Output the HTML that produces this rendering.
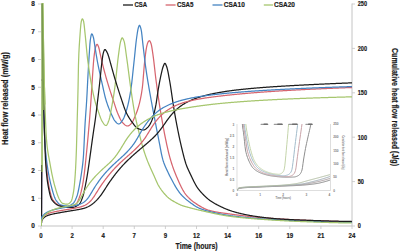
<!DOCTYPE html>
<html><head><meta charset="utf-8"><style>
html,body{margin:0;padding:0;background:#fff;width:400px;height:252px;overflow:hidden}
svg{display:block}
text{font-family:"Liberation Sans",sans-serif}
</style></head><body>
<svg width="400" height="252" viewBox="0 0 400 252" font-family="Liberation Sans, sans-serif">
<defs><clipPath id="pc"><rect x="41" y="3" width="311" height="223"/></clipPath><clipPath id="ic"><rect x="237" y="124" width="93.5" height="67"/></clipPath></defs>
<rect width="400" height="252" fill="#fff"/>
<line x1="41.5" y1="3.5" x2="41.5" y2="226" stroke="#c4c4c4" stroke-width="1"/>
<line x1="41" y1="226" x2="352" y2="226" stroke="#c4c4c4" stroke-width="1.2"/>
<line x1="352" y1="3.5" x2="352" y2="226" stroke="#c4c4c4" stroke-width="1"/>
<line x1="38" y1="226.00" x2="41.5" y2="226.00" stroke="#c4c4c4" stroke-width="0.8"/>
<text x="34.8" y="228.3" font-size="6.7" text-anchor="end" font-weight="bold" fill="#1a1a1a" stroke="#1a1a1a" stroke-width="0.18" textLength="3.6" lengthAdjust="spacingAndGlyphs" >0</text>
<line x1="38" y1="198.25" x2="41.5" y2="198.25" stroke="#c4c4c4" stroke-width="0.8"/>
<text x="34.8" y="200.55" font-size="6.7" text-anchor="end" font-weight="bold" fill="#1a1a1a" stroke="#1a1a1a" stroke-width="0.18" textLength="3.6" lengthAdjust="spacingAndGlyphs" >1</text>
<line x1="38" y1="170.50" x2="41.5" y2="170.50" stroke="#c4c4c4" stroke-width="0.8"/>
<text x="34.8" y="172.8" font-size="6.7" text-anchor="end" font-weight="bold" fill="#1a1a1a" stroke="#1a1a1a" stroke-width="0.18" textLength="3.6" lengthAdjust="spacingAndGlyphs" >2</text>
<line x1="38" y1="142.75" x2="41.5" y2="142.75" stroke="#c4c4c4" stroke-width="0.8"/>
<text x="34.8" y="145.05" font-size="6.7" text-anchor="end" font-weight="bold" fill="#1a1a1a" stroke="#1a1a1a" stroke-width="0.18" textLength="3.6" lengthAdjust="spacingAndGlyphs" >3</text>
<line x1="38" y1="115.00" x2="41.5" y2="115.00" stroke="#c4c4c4" stroke-width="0.8"/>
<text x="34.8" y="117.3" font-size="6.7" text-anchor="end" font-weight="bold" fill="#1a1a1a" stroke="#1a1a1a" stroke-width="0.18" textLength="3.6" lengthAdjust="spacingAndGlyphs" >4</text>
<line x1="38" y1="87.25" x2="41.5" y2="87.25" stroke="#c4c4c4" stroke-width="0.8"/>
<text x="34.8" y="89.55" font-size="6.7" text-anchor="end" font-weight="bold" fill="#1a1a1a" stroke="#1a1a1a" stroke-width="0.18" textLength="3.6" lengthAdjust="spacingAndGlyphs" >5</text>
<line x1="38" y1="59.50" x2="41.5" y2="59.50" stroke="#c4c4c4" stroke-width="0.8"/>
<text x="34.8" y="61.8" font-size="6.7" text-anchor="end" font-weight="bold" fill="#1a1a1a" stroke="#1a1a1a" stroke-width="0.18" textLength="3.6" lengthAdjust="spacingAndGlyphs" >6</text>
<line x1="38" y1="31.75" x2="41.5" y2="31.75" stroke="#c4c4c4" stroke-width="0.8"/>
<text x="34.8" y="34.05" font-size="6.7" text-anchor="end" font-weight="bold" fill="#1a1a1a" stroke="#1a1a1a" stroke-width="0.18" textLength="3.6" lengthAdjust="spacingAndGlyphs" >7</text>
<line x1="38" y1="4.00" x2="41.5" y2="4.00" stroke="#c4c4c4" stroke-width="0.8"/>
<text x="34.8" y="6.3" font-size="6.7" text-anchor="end" font-weight="bold" fill="#1a1a1a" stroke="#1a1a1a" stroke-width="0.18" textLength="3.6" lengthAdjust="spacingAndGlyphs" >8</text>
<line x1="352" y1="226.00" x2="355" y2="226.00" stroke="#c4c4c4" stroke-width="0.8"/>
<text x="357.8" y="228.3" font-size="6.7" text-anchor="start" font-weight="bold" fill="#1a1a1a" stroke="#1a1a1a" stroke-width="0.18" textLength="3.07" lengthAdjust="spacingAndGlyphs" >0</text>
<line x1="352" y1="181.60" x2="355" y2="181.60" stroke="#c4c4c4" stroke-width="0.8"/>
<text x="357.8" y="183.9" font-size="6.7" text-anchor="start" font-weight="bold" fill="#1a1a1a" stroke="#1a1a1a" stroke-width="0.18" textLength="6.14" lengthAdjust="spacingAndGlyphs" >50</text>
<line x1="352" y1="137.20" x2="355" y2="137.20" stroke="#c4c4c4" stroke-width="0.8"/>
<text x="357.8" y="139.5" font-size="6.7" text-anchor="start" font-weight="bold" fill="#1a1a1a" stroke="#1a1a1a" stroke-width="0.18" textLength="9.21" lengthAdjust="spacingAndGlyphs" >100</text>
<line x1="352" y1="92.80" x2="355" y2="92.80" stroke="#c4c4c4" stroke-width="0.8"/>
<text x="357.8" y="95.1" font-size="6.7" text-anchor="start" font-weight="bold" fill="#1a1a1a" stroke="#1a1a1a" stroke-width="0.18" textLength="9.21" lengthAdjust="spacingAndGlyphs" >150</text>
<line x1="352" y1="48.40" x2="355" y2="48.40" stroke="#c4c4c4" stroke-width="0.8"/>
<text x="357.8" y="50.7" font-size="6.7" text-anchor="start" font-weight="bold" fill="#1a1a1a" stroke="#1a1a1a" stroke-width="0.18" textLength="9.21" lengthAdjust="spacingAndGlyphs" >200</text>
<line x1="352" y1="4.00" x2="355" y2="4.00" stroke="#c4c4c4" stroke-width="0.8"/>
<text x="357.8" y="6.3" font-size="6.7" text-anchor="start" font-weight="bold" fill="#1a1a1a" stroke="#1a1a1a" stroke-width="0.18" textLength="9.21" lengthAdjust="spacingAndGlyphs" >250</text>
<line x1="41.00" y1="226" x2="41.00" y2="229" stroke="#c4c4c4" stroke-width="0.8"/>
<text x="41.0" y="237.6" font-size="6.7" text-anchor="middle" font-weight="bold" fill="#1a1a1a" stroke="#1a1a1a" stroke-width="0.18" textLength="3.4" lengthAdjust="spacingAndGlyphs" >0</text>
<line x1="72.10" y1="226" x2="72.10" y2="229" stroke="#c4c4c4" stroke-width="0.8"/>
<text x="72.1" y="237.6" font-size="6.7" text-anchor="middle" font-weight="bold" fill="#1a1a1a" stroke="#1a1a1a" stroke-width="0.18" textLength="3.4" lengthAdjust="spacingAndGlyphs" >2</text>
<line x1="103.20" y1="226" x2="103.20" y2="229" stroke="#c4c4c4" stroke-width="0.8"/>
<text x="103.2" y="237.6" font-size="6.7" text-anchor="middle" font-weight="bold" fill="#1a1a1a" stroke="#1a1a1a" stroke-width="0.18" textLength="3.4" lengthAdjust="spacingAndGlyphs" >4</text>
<line x1="134.30" y1="226" x2="134.30" y2="229" stroke="#c4c4c4" stroke-width="0.8"/>
<text x="134.3" y="237.6" font-size="6.7" text-anchor="middle" font-weight="bold" fill="#1a1a1a" stroke="#1a1a1a" stroke-width="0.18" textLength="3.4" lengthAdjust="spacingAndGlyphs" >7</text>
<line x1="165.40" y1="226" x2="165.40" y2="229" stroke="#c4c4c4" stroke-width="0.8"/>
<text x="165.4" y="237.6" font-size="6.7" text-anchor="middle" font-weight="bold" fill="#1a1a1a" stroke="#1a1a1a" stroke-width="0.18" textLength="3.4" lengthAdjust="spacingAndGlyphs" >9</text>
<line x1="196.50" y1="226" x2="196.50" y2="229" stroke="#c4c4c4" stroke-width="0.8"/>
<text x="196.5" y="237.6" font-size="6.7" text-anchor="middle" font-weight="bold" fill="#1a1a1a" stroke="#1a1a1a" stroke-width="0.18" textLength="6.8" lengthAdjust="spacingAndGlyphs" >12</text>
<line x1="227.60" y1="226" x2="227.60" y2="229" stroke="#c4c4c4" stroke-width="0.8"/>
<text x="227.6" y="237.6" font-size="6.7" text-anchor="middle" font-weight="bold" fill="#1a1a1a" stroke="#1a1a1a" stroke-width="0.18" textLength="6.8" lengthAdjust="spacingAndGlyphs" >14</text>
<line x1="258.70" y1="226" x2="258.70" y2="229" stroke="#c4c4c4" stroke-width="0.8"/>
<text x="258.7" y="237.6" font-size="6.7" text-anchor="middle" font-weight="bold" fill="#1a1a1a" stroke="#1a1a1a" stroke-width="0.18" textLength="6.8" lengthAdjust="spacingAndGlyphs" >16</text>
<line x1="289.80" y1="226" x2="289.80" y2="229" stroke="#c4c4c4" stroke-width="0.8"/>
<text x="289.8" y="237.6" font-size="6.7" text-anchor="middle" font-weight="bold" fill="#1a1a1a" stroke="#1a1a1a" stroke-width="0.18" textLength="6.8" lengthAdjust="spacingAndGlyphs" >19</text>
<line x1="320.90" y1="226" x2="320.90" y2="229" stroke="#c4c4c4" stroke-width="0.8"/>
<text x="320.9" y="237.6" font-size="6.7" text-anchor="middle" font-weight="bold" fill="#1a1a1a" stroke="#1a1a1a" stroke-width="0.18" textLength="6.8" lengthAdjust="spacingAndGlyphs" >21</text>
<line x1="352.00" y1="226" x2="352.00" y2="229" stroke="#c4c4c4" stroke-width="0.8"/>
<text x="352.0" y="237.6" font-size="6.7" text-anchor="middle" font-weight="bold" fill="#1a1a1a" stroke="#1a1a1a" stroke-width="0.18" textLength="6.8" lengthAdjust="spacingAndGlyphs" >24</text>
<text x="196.6" y="248.7" font-size="8.4" text-anchor="middle" font-weight="bold" fill="#1a1a1a" stroke="#1a1a1a" stroke-width="0.18" textLength="42" lengthAdjust="spacingAndGlyphs" >Time (hours)</text>
<g transform="translate(7.9,145) rotate(-90)"><text x="0" y="0" font-size="8.2" text-anchor="start" font-weight="bold" fill="#1a1a1a" stroke="#1a1a1a" stroke-width="0.18" textLength="93" lengthAdjust="spacingAndGlyphs" >Heat flow released (mW/g)</text></g>
<g transform="translate(391.6,48) rotate(90)"><text x="0" y="0" font-size="8.4" text-anchor="start" font-weight="bold" fill="#1a1a1a" stroke="#1a1a1a" stroke-width="0.18" textLength="118" lengthAdjust="spacingAndGlyphs" >Cumulative heat flow released (J/g)</text></g>
<line x1="123" y1="5" x2="133" y2="5" stroke="#1c1c1c" stroke-width="1.3"/>
<text x="134.4" y="7.1" font-size="7.5" text-anchor="start" font-weight="bold" fill="#1a1a1a" stroke="#1a1a1a" stroke-width="0.18" textLength="12.6" lengthAdjust="spacingAndGlyphs" >CSA</text>
<line x1="165.6" y1="5" x2="175.6" y2="5" stroke="#d6656f" stroke-width="1.3"/>
<text x="176.9" y="7.1" font-size="7.5" text-anchor="start" font-weight="bold" fill="#1a1a1a" stroke="#1a1a1a" stroke-width="0.18" textLength="16.6" lengthAdjust="spacingAndGlyphs" >CSA5</text>
<line x1="212.5" y1="5" x2="222.5" y2="5" stroke="#4584c2" stroke-width="1.3"/>
<text x="223.8" y="7.1" font-size="7.5" text-anchor="start" font-weight="bold" fill="#1a1a1a" stroke="#1a1a1a" stroke-width="0.18" textLength="21" lengthAdjust="spacingAndGlyphs" >CSA10</text>
<line x1="263.8" y1="5" x2="273" y2="5" stroke="#a6c66e" stroke-width="1.3"/>
<text x="274" y="7.1" font-size="7.5" text-anchor="start" font-weight="bold" fill="#1a1a1a" stroke="#1a1a1a" stroke-width="0.18" textLength="21" lengthAdjust="spacingAndGlyphs" >CSA20</text>
<g clip-path="url(#pc)"><path d="M41.5 223 L41.7 165 M42.3 79.5 L42.30 79.50 L42.70 82.00 L43.10 90.95 L43.50 102.81 L43.90 115.23 L44.30 127.95 L44.70 138.82 L45.10 146.73 L45.50 153.27 L45.90 158.77 L46.30 163.57 L46.70 168.11 L47.10 172.34 L47.50 176.21 L47.90 179.65 L48.30 182.60 L48.70 185.00 L49.10 187.05 L49.50 188.98 L49.90 190.80 L50.30 192.49 L50.70 194.05 L51.10 195.46 L51.50 196.73 L51.90 197.83 L52.30 198.77 L52.70 199.54 L53.10 200.13 L53.50 200.65 L53.90 201.15 L54.30 201.61 L54.70 202.05 L55.10 202.46 L55.50 202.85 L55.90 203.21 L56.30 203.54 L56.70 203.85 L57.10 204.14 L57.50 204.40 L57.90 204.64 L58.30 204.85 L58.70 205.04 L59.10 205.21 L59.50 205.35 L59.90 205.47 L60.30 205.58 L60.70 205.68 L61.10 205.78 L61.50 205.88 L61.90 205.97 L62.30 206.06 L62.70 206.15 L63.10 206.23 L63.50 206.31 L63.90 206.39 L64.30 206.46 L64.70 206.53 L65.10 206.59 L65.50 206.65 L65.90 206.71 L66.30 206.76 L66.70 206.81 L67.10 206.85 L67.50 206.89 L67.90 206.92 L68.30 206.95 L68.70 206.97 L69.10 206.99 L69.50 207.00 L69.90 207.00 L70.30 206.99 L70.70 206.95 L71.10 206.87 L71.50 206.77 L71.90 206.63 L72.30 206.47 L72.70 206.29 L73.10 206.08 L73.50 205.84 L73.90 205.59 L74.30 205.32 L74.70 205.03 L75.10 204.73 L75.50 204.41 L75.90 204.08 L76.30 203.71 L76.70 203.21 L77.10 202.59 L77.50 201.86 L77.90 201.03 L78.30 200.12 L78.70 199.14 L79.10 198.10 L79.50 197.00 L79.90 195.87 L80.30 194.70 L80.70 193.40 L81.10 191.91 L81.50 190.27 L81.90 188.47 L82.30 186.53 L82.70 184.47 L83.10 182.12 L83.50 179.49 L83.90 176.62 L84.30 173.58 L84.70 170.36 L85.10 166.79 L85.50 162.96 L85.90 158.99 L86.30 155.00 L86.70 150.95 L87.10 146.84 L87.50 142.63 L87.90 138.34 L88.30 133.94 L88.70 129.42 L89.10 124.78 L89.50 120.00 L89.90 115.01 L90.30 109.75 L90.70 104.26 L91.10 98.54 L91.50 92.33 L91.90 85.84 L92.30 79.46 L92.70 73.57 L93.10 67.75 L93.50 62.32 L93.90 58.00 L94.30 54.61 L94.70 51.62 L95.10 49.20 L95.50 47.50 L95.90 46.25 L96.30 45.18 L96.70 44.48 L97.10 44.32 L97.50 44.66 L97.90 45.36 L98.30 46.27 L98.70 47.27 L99.10 48.73 L99.50 50.61 L99.90 52.61 L100.30 54.43 L100.70 56.18 L101.10 57.94 L101.50 59.70 L101.90 61.44 L102.30 63.14 L102.70 64.80 L103.10 66.39 L103.50 67.95 L103.90 69.48 L104.30 70.99 L104.70 72.48 L105.10 73.94 L105.50 75.38 L105.90 76.81 L106.30 78.21 L106.70 79.60 L107.10 80.97 L107.50 82.32 L107.90 83.67 L108.30 84.99 L108.70 86.30 L109.10 87.59 L109.50 88.86 L109.90 90.11 L110.30 91.36 L110.70 92.59 L111.10 93.81 L111.50 95.02 L111.90 96.22 L112.30 97.42 L112.70 98.61 L113.10 99.81 L113.50 101.00 L113.90 102.21 L114.30 103.43 L114.70 104.67 L115.10 105.91 L115.50 107.13 L115.90 108.34 L116.30 109.52 L116.70 110.67 L117.10 111.76 L117.50 112.80 L117.90 113.77 L118.30 114.69 L118.70 115.60 L119.10 116.50 L119.50 117.38 L119.90 118.24 L120.30 119.06 L120.70 119.83 L121.10 120.54 L121.50 121.20 L121.90 121.78 L122.30 122.28 L122.70 122.71 L123.10 123.12 L123.50 123.52 L123.90 123.92 L124.30 124.29 L124.70 124.65 L125.10 124.97 L125.50 125.26 L125.90 125.51 L126.30 125.72 L126.70 125.87 L127.10 125.97 L127.50 126.00 L127.90 125.96 L128.30 125.84 L128.70 125.66 L129.10 125.43 L129.50 125.14 L129.90 124.81 L130.30 124.46 L130.70 124.08 L131.10 123.70 L131.50 123.29 L131.90 122.78 L132.30 122.17 L132.70 121.47 L133.10 120.70 L133.50 119.87 L133.90 119.00 L134.30 118.10 L134.70 117.19 L135.10 116.27 L135.50 115.34 L135.90 114.37 L136.30 113.36 L136.70 112.30 L137.10 111.19 L137.50 110.02 L137.90 108.78 L138.30 107.48 L138.70 106.09 L139.10 104.63 L139.50 103.07 L139.90 101.42 L140.30 99.63 L140.70 97.70 L141.10 95.59 L141.50 93.29 L141.90 90.77 L142.30 88.00 L142.70 84.45 L143.10 79.90 L143.50 74.83 L143.90 69.70 L144.30 64.98 L144.70 61.11 L145.10 57.59 L145.50 54.23 L145.90 51.17 L146.30 48.55 L146.70 46.50 L147.10 44.86 L147.50 43.44 L147.90 42.35 L148.30 41.66 L148.70 41.15 L149.10 40.79 L149.50 40.72 L149.90 41.07 L150.30 41.78 L150.70 42.72 L151.10 43.79 L151.50 45.41 L151.90 47.61 L152.30 50.19 L152.70 52.94 L153.10 55.69 L153.50 58.66 L153.90 61.92 L154.30 65.38 L154.70 68.94 L155.10 72.50 L155.50 75.96 L155.90 79.23 L156.30 82.28 L156.70 85.28 L157.10 88.24 L157.50 91.15 L157.90 94.01 L158.30 96.81 L158.70 99.55 L159.10 102.22 L159.50 104.84 L159.90 107.38 L160.30 109.85 L160.70 112.29 L161.10 114.70 L161.50 117.06 L161.90 119.39 L162.30 121.67 L162.70 123.92 L163.10 126.13 L163.50 128.30 L163.90 130.43 L164.30 132.52 L164.70 134.57 L165.10 136.58 L165.50 138.55 L165.90 140.48 L166.30 142.38 L166.70 144.26 L167.10 146.11 L167.50 147.92 L167.90 149.69 L168.30 151.40 L168.70 153.07 L169.10 154.66 L169.50 156.19 L169.90 157.65 L170.30 159.03 L170.70 160.38 L171.10 161.69 L171.50 162.97 L171.90 164.21 L172.30 165.42 L172.70 166.60 L173.10 167.74 L173.50 168.86 L173.90 169.95 L174.30 171.01 L174.70 172.04 L175.10 173.05 L175.50 174.04 L175.90 175.00 L176.30 175.95 L176.70 176.89 L177.10 177.83 L177.50 178.77 L177.90 179.69 L178.30 180.61 L178.70 181.51 L179.10 182.40 L179.50 183.28 L179.90 184.15 L180.30 185.00 L180.70 185.83 L181.10 186.65 L181.50 187.45 L181.90 188.23 L182.30 188.98 L182.70 189.72 L183.10 190.42 L183.50 191.11 L183.90 191.77 L184.30 192.40 L184.70 193.00 L185.10 193.57 L185.50 194.12 L185.90 194.62 L186.30 195.12 L186.70 195.59 L187.10 196.06 L187.50 196.51 L187.90 196.94 L188.30 197.37 L188.70 197.78 L189.10 198.18 L189.50 198.57 L189.90 198.95 L190.30 199.32 L190.70 199.68 L191.10 200.03 L191.50 200.37 L191.90 200.70 L192.30 201.02 L192.70 201.34 L193.10 201.64 L193.50 201.94 L193.90 202.23 L194.30 202.52 L194.70 202.80 L195.10 203.07 L195.50 203.34 L195.90 203.60 L196.30 203.87 L196.70 204.13 L197.10 204.39 L197.50 204.65 L197.90 204.90 L198.30 205.16 L198.70 205.41 L199.10 205.65 L199.50 205.90 L199.90 206.14 L200.30 206.37 L200.70 206.61 L201.10 206.84 L201.50 207.06 L201.90 207.28 L202.30 207.50 L202.70 207.71 L203.10 207.92 L203.50 208.12 L203.90 208.32 L204.30 208.51 L204.70 208.70 L205.10 208.88 L205.50 209.06 L205.90 209.23 L206.30 209.39 L206.70 209.55 L207.10 209.70 L207.50 209.85 L207.90 209.99 L208.30 210.12 L208.70 210.24 L209.10 210.36 L209.50 210.47 L209.90 210.58 L210.30 210.68 L210.70 210.78 L211.10 210.88 L211.50 210.98 L211.90 211.07 L212.30 211.16 L212.70 211.25 L213.10 211.34 L213.50 211.42 L213.90 211.51 L214.30 211.59 L214.70 211.67 L215.10 211.75 L215.50 211.83 L215.90 211.90 L216.30 211.98 L216.70 212.05 L217.10 212.12 L217.50 212.19 L217.90 212.26 L218.30 212.32 L218.70 212.39 L219.10 212.46 L219.50 212.52 L219.90 212.58 L220.30 212.64 L220.70 212.70 L221.10 212.76 L221.50 212.82 L221.90 212.88 L222.30 212.94 L222.70 213.00 L223.10 213.05 L223.50 213.11 L223.90 213.17 L224.30 213.22 L224.70 213.28 L225.10 213.33 L225.50 213.38 L225.90 213.44 L226.30 213.49 L226.70 213.55 L227.10 213.60 L227.50 213.66 L227.90 213.71 L228.30 213.76 L228.70 213.82 L229.10 213.87 L229.50 213.93 L229.90 213.99 L230.30 214.04 L230.70 214.10 L231.10 214.15 L231.50 214.21 L231.90 214.27 L232.30 214.32 L232.70 214.38 L233.10 214.43 L233.50 214.49 L233.90 214.54 L234.30 214.60 L234.70 214.65 L235.10 214.70 L235.50 214.76 L235.90 214.81 L236.30 214.86 L236.70 214.92 L237.10 214.97 L237.50 215.02 L237.90 215.08 L238.30 215.13 L238.70 215.18 L239.10 215.23 L239.50 215.28 L239.90 215.34 L240.30 215.39 L240.70 215.44 L241.10 215.49 L241.50 215.54 L241.90 215.59 L242.30 215.64 L242.70 215.69 L243.10 215.74 L243.50 215.79 L243.90 215.84 L244.30 215.88 L244.70 215.93 L245.10 215.98 L245.50 216.03 L245.90 216.07 L246.30 216.12 L246.70 216.17 L247.10 216.21 L247.50 216.26 L247.90 216.30 L248.30 216.35 L248.70 216.39 L249.10 216.44 L249.50 216.48 L249.90 216.53 L250.30 216.57 L250.70 216.61 L251.10 216.66 L251.50 216.70 L251.90 216.74 L252.30 216.78 L252.70 216.82 L253.10 216.86 L253.50 216.90 L253.90 216.94 L254.30 216.98 L254.70 217.02 L255.10 217.06 L255.50 217.10 L255.90 217.14 L256.30 217.17 L256.70 217.21 L257.10 217.25 L257.50 217.28 L257.90 217.32 L258.30 217.36 L258.70 217.39 L259.10 217.42 L259.50 217.46 L259.90 217.49 L260.30 217.52 L260.70 217.56 L261.10 217.59 L261.50 217.62 L261.90 217.65 L262.30 217.69 L262.70 217.72 L263.10 217.75 L263.50 217.78 L263.90 217.81 L264.30 217.84 L264.70 217.88 L265.10 217.91 L265.50 217.94 L265.90 217.97 L266.30 218.00 L266.70 218.03 L267.10 218.06 L267.50 218.09 L267.90 218.12 L268.30 218.15 L268.70 218.18 L269.10 218.21 L269.50 218.23 L269.90 218.26 L270.30 218.29 L270.70 218.32 L271.10 218.35 L271.50 218.38 L271.90 218.40 L272.30 218.43 L272.70 218.46 L273.10 218.49 L273.50 218.52 L273.90 218.54 L274.30 218.57 L274.70 218.60 L275.10 218.62 L275.50 218.65 L275.90 218.68 L276.30 218.70 L276.70 218.73 L277.10 218.75 L277.50 218.78 L277.90 218.81 L278.30 218.83 L278.70 218.86 L279.10 218.88 L279.50 218.91 L279.90 218.93 L280.30 218.96 L280.70 218.98 L281.10 219.00 L281.50 219.03 L281.90 219.05 L282.30 219.08 L282.70 219.10 L283.10 219.12 L283.50 219.15 L283.90 219.17 L284.30 219.19 L284.70 219.22 L285.10 219.24 L285.50 219.26 L285.90 219.29 L286.30 219.31 L286.70 219.33 L287.10 219.35 L287.50 219.38 L287.90 219.40 L288.30 219.42 L288.70 219.44 L289.10 219.46 L289.50 219.48 L289.90 219.51 L290.30 219.53 L290.70 219.55 L291.10 219.57 L291.50 219.59 L291.90 219.61 L292.30 219.63 L292.70 219.65 L293.10 219.67 L293.50 219.69 L293.90 219.71 L294.30 219.73 L294.70 219.75 L295.10 219.77 L295.50 219.79 L295.90 219.81 L296.30 219.83 L296.70 219.85 L297.10 219.87 L297.50 219.88 L297.90 219.90 L298.30 219.92 L298.70 219.94 L299.10 219.96 L299.50 219.98 L299.90 220.00 L300.30 220.01 L300.70 220.03 L301.10 220.05 L301.50 220.07 L301.90 220.09 L302.30 220.10 L302.70 220.12 L303.10 220.14 L303.50 220.16 L303.90 220.17 L304.30 220.19 L304.70 220.21 L305.10 220.23 L305.50 220.24 L305.90 220.26 L306.30 220.28 L306.70 220.30 L307.10 220.31 L307.50 220.33 L307.90 220.35 L308.30 220.37 L308.70 220.38 L309.10 220.40 L309.50 220.42 L309.90 220.43 L310.30 220.45 L310.70 220.47 L311.10 220.49 L311.50 220.50 L311.90 220.52 L312.30 220.54 L312.70 220.55 L313.10 220.57 L313.50 220.59 L313.90 220.60 L314.30 220.62 L314.70 220.64 L315.10 220.65 L315.50 220.67 L315.90 220.68 L316.30 220.70 L316.70 220.72 L317.10 220.73 L317.50 220.75 L317.90 220.76 L318.30 220.78 L318.70 220.80 L319.10 220.81 L319.50 220.83 L319.90 220.84 L320.30 220.86 L320.70 220.87 L321.10 220.89 L321.50 220.90 L321.90 220.92 L322.30 220.93 L322.70 220.95 L323.10 220.96 L323.50 220.98 L323.90 220.99 L324.30 221.01 L324.70 221.02 L325.10 221.04 L325.50 221.05 L325.90 221.07 L326.30 221.08 L326.70 221.10 L327.10 221.11 L327.50 221.12 L327.90 221.14 L328.30 221.15 L328.70 221.17 L329.10 221.18 L329.50 221.19 L329.90 221.21 L330.30 221.22 L330.70 221.23 L331.10 221.25 L331.50 221.26 L331.90 221.27 L332.30 221.29 L332.70 221.30 L333.10 221.31 L333.50 221.33 L333.90 221.34 L334.30 221.35 L334.70 221.36 L335.10 221.38 L335.50 221.39 L335.90 221.40 L336.30 221.41 L336.70 221.42 L337.10 221.44 L337.50 221.45 L337.90 221.46 L338.30 221.47 L338.70 221.48 L339.10 221.49 L339.50 221.50 L339.90 221.52 L340.30 221.53 L340.70 221.54 L341.10 221.55 L341.50 221.56 L341.90 221.57 L342.30 221.58 L342.70 221.59 L343.10 221.60 L343.50 221.61 L343.90 221.62 L344.30 221.63 L344.70 221.64 L345.10 221.65 L345.50 221.66 L345.90 221.67 L346.30 221.68 L346.70 221.69 L347.10 221.70 L347.50 221.71 L347.90 221.72 L348.30 221.72 L348.70 221.73 L349.10 221.74 L349.50 221.75 L349.90 221.76 L350.30 221.77 L350.70 221.77 L351.10 221.78 L351.50 221.79 L351.90 221.80" fill="none" stroke="#d6656f" stroke-width="1.25" stroke-linejoin="round"/><path d="M41.5 223 L41.7 165 M42.3 79.5 L42.30 79.50 L42.70 82.00 L43.10 90.95 L43.50 102.83 L43.90 115.69 L44.30 128.78 L44.70 139.17 L45.10 145.57 L45.50 150.66 L45.90 154.86 L46.30 158.40 L46.70 161.54 L47.10 164.46 L47.50 167.20 L47.90 169.76 L48.30 172.15 L48.70 174.40 L49.10 176.50 L49.50 178.48 L49.90 180.35 L50.30 182.11 L50.70 183.79 L51.10 185.40 L51.50 186.97 L51.90 188.51 L52.30 190.01 L52.70 191.46 L53.10 192.86 L53.50 194.18 L53.90 195.41 L54.30 196.56 L54.70 197.60 L55.10 198.53 L55.50 199.33 L55.90 200.00 L56.30 200.59 L56.70 201.15 L57.10 201.69 L57.50 202.20 L57.90 202.67 L58.30 203.12 L58.70 203.53 L59.10 203.89 L59.50 204.22 L59.90 204.49 L60.30 204.72 L60.70 204.90 L61.10 205.03 L61.50 205.13 L61.90 205.24 L62.30 205.33 L62.70 205.42 L63.10 205.51 L63.50 205.59 L63.90 205.66 L64.30 205.73 L64.70 205.79 L65.10 205.84 L65.50 205.89 L65.90 205.93 L66.30 205.96 L66.70 205.98 L67.10 206.00 L67.50 206.00 L67.90 205.98 L68.30 205.93 L68.70 205.85 L69.10 205.74 L69.50 205.60 L69.90 205.43 L70.30 205.24 L70.70 205.03 L71.10 204.80 L71.50 204.56 L71.90 204.29 L72.30 204.01 L72.70 203.72 L73.10 203.42 L73.50 203.04 L73.90 202.55 L74.30 201.96 L74.70 201.29 L75.10 200.53 L75.50 199.70 L75.90 198.79 L76.30 197.83 L76.70 196.80 L77.10 195.72 L77.50 194.40 L77.90 192.81 L78.30 191.01 L78.70 189.07 L79.10 187.05 L79.50 185.00 L79.90 182.89 L80.30 180.65 L80.70 178.26 L81.10 175.71 L81.50 173.00 L81.90 170.22 L82.30 167.33 L82.70 164.08 L83.10 160.23 L83.50 155.26 L83.90 147.92 L84.30 139.25 L84.70 130.61 L85.10 123.36 L85.50 117.36 L85.90 111.82 L86.30 106.22 L86.70 100.00 L87.10 92.66 L87.50 84.64 L87.90 76.82 L88.30 69.71 L88.70 62.90 L89.10 56.52 L89.50 50.27 L89.90 44.18 L90.30 40.00 L90.70 37.51 L91.10 35.45 L91.50 34.13 L91.90 33.82 L92.30 34.29 L92.70 35.20 L93.10 36.38 L93.50 37.74 L93.90 39.82 L94.30 42.40 L94.70 45.10 L95.10 47.60 L95.50 50.03 L95.90 52.52 L96.30 55.00 L96.70 57.44 L97.10 59.79 L97.50 62.00 L97.90 64.09 L98.30 66.11 L98.70 68.07 L99.10 69.98 L99.50 71.84 L99.90 73.67 L100.30 75.47 L100.70 77.25 L101.10 79.02 L101.50 80.79 L101.90 82.56 L102.30 84.35 L102.70 86.17 L103.10 88.00 L103.50 89.83 L103.90 91.64 L104.30 93.41 L104.70 95.11 L105.10 96.74 L105.50 98.26 L105.90 99.67 L106.30 100.97 L106.70 102.22 L107.10 103.42 L107.50 104.59 L107.90 105.71 L108.30 106.80 L108.70 107.85 L109.10 108.87 L109.50 109.86 L109.90 110.83 L110.30 111.76 L110.70 112.67 L111.10 113.56 L111.50 114.44 L111.90 115.29 L112.30 116.13 L112.70 116.98 L113.10 117.81 L113.50 118.61 L113.90 119.36 L114.30 120.04 L114.70 120.63 L115.10 121.11 L115.50 121.58 L115.90 122.03 L116.30 122.47 L116.70 122.88 L117.10 123.25 L117.50 123.56 L117.90 123.79 L118.30 123.95 L118.70 124.00 L119.10 123.94 L119.50 123.78 L119.90 123.51 L120.30 123.16 L120.70 122.74 L121.10 122.26 L121.50 121.73 L121.90 121.16 L122.30 120.57 L122.70 119.96 L123.10 119.34 L123.50 118.64 L123.90 117.81 L124.30 116.87 L124.70 115.84 L125.10 114.71 L125.50 113.51 L125.90 112.24 L126.30 110.92 L126.70 109.55 L127.10 108.14 L127.50 106.66 L127.90 105.06 L128.30 103.35 L128.70 101.53 L129.10 99.59 L129.50 97.53 L129.90 95.35 L130.30 93.05 L130.70 90.63 L131.10 87.98 L131.50 84.95 L131.90 81.59 L132.30 78.00 L132.70 74.25 L133.10 70.43 L133.50 66.62 L133.90 62.91 L134.30 59.22 L134.70 55.33 L135.10 51.36 L135.50 47.43 L135.90 43.69 L136.30 40.27 L136.70 37.29 L137.10 34.48 L137.50 31.86 L137.90 29.63 L138.30 28.00 L138.70 26.74 L139.10 25.72 L139.50 25.30 L139.90 25.66 L140.30 26.62 L140.70 27.96 L141.10 29.50 L141.50 31.70 L141.90 34.88 L142.30 38.59 L142.70 42.38 L143.10 45.82 L143.50 49.18 L143.90 52.60 L144.30 56.03 L144.70 59.41 L145.10 62.69 L145.50 65.80 L145.90 68.71 L146.30 71.45 L146.70 74.10 L147.10 76.65 L147.50 79.13 L147.90 81.54 L148.30 83.91 L148.70 86.24 L149.10 88.54 L149.50 90.85 L149.90 93.15 L150.30 95.41 L150.70 97.64 L151.10 99.83 L151.50 102.00 L151.90 104.14 L152.30 106.28 L152.70 108.40 L153.10 110.53 L153.50 112.66 L153.90 114.78 L154.30 116.89 L154.70 118.99 L155.10 121.09 L155.50 123.17 L155.90 125.25 L156.30 127.32 L156.70 129.38 L157.10 131.43 L157.50 133.46 L157.90 135.49 L158.30 137.50 L158.70 139.50 L159.10 141.52 L159.50 143.60 L159.90 145.72 L160.30 147.85 L160.70 149.97 L161.10 152.03 L161.50 154.01 L161.90 155.88 L162.30 157.61 L162.70 159.16 L163.10 160.52 L163.50 161.76 L163.90 162.92 L164.30 164.00 L164.70 165.03 L165.10 166.00 L165.50 166.93 L165.90 167.83 L166.30 168.69 L166.70 169.55 L167.10 170.39 L167.50 171.23 L167.90 172.08 L168.30 172.94 L168.70 173.78 L169.10 174.61 L169.50 175.42 L169.90 176.21 L170.30 176.99 L170.70 177.76 L171.10 178.52 L171.50 179.27 L171.90 180.02 L172.30 180.76 L172.70 181.50 L173.10 182.24 L173.50 182.98 L173.90 183.71 L174.30 184.44 L174.70 185.16 L175.10 185.87 L175.50 186.57 L175.90 187.25 L176.30 187.91 L176.70 188.54 L177.10 189.15 L177.50 189.75 L177.90 190.33 L178.30 190.91 L178.70 191.47 L179.10 192.02 L179.50 192.56 L179.90 193.08 L180.30 193.58 L180.70 194.07 L181.10 194.54 L181.50 194.98 L181.90 195.41 L182.30 195.83 L182.70 196.24 L183.10 196.64 L183.50 197.03 L183.90 197.41 L184.30 197.78 L184.70 198.14 L185.10 198.50 L185.50 198.85 L185.90 199.20 L186.30 199.53 L186.70 199.87 L187.10 200.19 L187.50 200.51 L187.90 200.82 L188.30 201.13 L188.70 201.44 L189.10 201.74 L189.50 202.03 L189.90 202.33 L190.30 202.62 L190.70 202.91 L191.10 203.20 L191.50 203.48 L191.90 203.77 L192.30 204.06 L192.70 204.34 L193.10 204.62 L193.50 204.89 L193.90 205.16 L194.30 205.43 L194.70 205.69 L195.10 205.95 L195.50 206.20 L195.90 206.45 L196.30 206.69 L196.70 206.92 L197.10 207.15 L197.50 207.36 L197.90 207.57 L198.30 207.77 L198.70 207.96 L199.10 208.15 L199.50 208.32 L199.90 208.48 L200.30 208.64 L200.70 208.79 L201.10 208.94 L201.50 209.09 L201.90 209.24 L202.30 209.38 L202.70 209.52 L203.10 209.65 L203.50 209.79 L203.90 209.92 L204.30 210.04 L204.70 210.17 L205.10 210.29 L205.50 210.41 L205.90 210.53 L206.30 210.65 L206.70 210.76 L207.10 210.87 L207.50 210.98 L207.90 211.09 L208.30 211.19 L208.70 211.30 L209.10 211.40 L209.50 211.50 L209.90 211.60 L210.30 211.70 L210.70 211.80 L211.10 211.90 L211.50 211.99 L211.90 212.09 L212.30 212.18 L212.70 212.27 L213.10 212.37 L213.50 212.46 L213.90 212.55 L214.30 212.64 L214.70 212.73 L215.10 212.82 L215.50 212.91 L215.90 213.00 L216.30 213.09 L216.70 213.18 L217.10 213.27 L217.50 213.35 L217.90 213.44 L218.30 213.52 L218.70 213.61 L219.10 213.69 L219.50 213.77 L219.90 213.86 L220.30 213.94 L220.70 214.02 L221.10 214.10 L221.50 214.17 L221.90 214.25 L222.30 214.33 L222.70 214.40 L223.10 214.48 L223.50 214.55 L223.90 214.63 L224.30 214.70 L224.70 214.77 L225.10 214.84 L225.50 214.91 L225.90 214.97 L226.30 215.04 L226.70 215.11 L227.10 215.17 L227.50 215.23 L227.90 215.29 L228.30 215.36 L228.70 215.41 L229.10 215.47 L229.50 215.53 L229.90 215.59 L230.30 215.64 L230.70 215.70 L231.10 215.75 L231.50 215.80 L231.90 215.86 L232.30 215.91 L232.70 215.96 L233.10 216.01 L233.50 216.07 L233.90 216.12 L234.30 216.17 L234.70 216.22 L235.10 216.27 L235.50 216.32 L235.90 216.37 L236.30 216.42 L236.70 216.47 L237.10 216.51 L237.50 216.56 L237.90 216.61 L238.30 216.66 L238.70 216.70 L239.10 216.75 L239.50 216.80 L239.90 216.84 L240.30 216.89 L240.70 216.93 L241.10 216.98 L241.50 217.02 L241.90 217.06 L242.30 217.11 L242.70 217.15 L243.10 217.19 L243.50 217.24 L243.90 217.28 L244.30 217.32 L244.70 217.36 L245.10 217.40 L245.50 217.44 L245.90 217.48 L246.30 217.52 L246.70 217.56 L247.10 217.60 L247.50 217.64 L247.90 217.68 L248.30 217.72 L248.70 217.76 L249.10 217.79 L249.50 217.83 L249.90 217.87 L250.30 217.91 L250.70 217.94 L251.10 217.98 L251.50 218.01 L251.90 218.05 L252.30 218.08 L252.70 218.12 L253.10 218.15 L253.50 218.19 L253.90 218.22 L254.30 218.25 L254.70 218.29 L255.10 218.32 L255.50 218.35 L255.90 218.39 L256.30 218.42 L256.70 218.45 L257.10 218.48 L257.50 218.51 L257.90 218.54 L258.30 218.57 L258.70 218.60 L259.10 218.63 L259.50 218.66 L259.90 218.69 L260.30 218.72 L260.70 218.75 L261.10 218.78 L261.50 218.81 L261.90 218.84 L262.30 218.87 L262.70 218.89 L263.10 218.92 L263.50 218.95 L263.90 218.98 L264.30 219.00 L264.70 219.03 L265.10 219.06 L265.50 219.09 L265.90 219.11 L266.30 219.14 L266.70 219.17 L267.10 219.19 L267.50 219.22 L267.90 219.25 L268.30 219.27 L268.70 219.30 L269.10 219.32 L269.50 219.35 L269.90 219.38 L270.30 219.40 L270.70 219.43 L271.10 219.45 L271.50 219.48 L271.90 219.50 L272.30 219.53 L272.70 219.55 L273.10 219.57 L273.50 219.60 L273.90 219.62 L274.30 219.65 L274.70 219.67 L275.10 219.69 L275.50 219.72 L275.90 219.74 L276.30 219.76 L276.70 219.79 L277.10 219.81 L277.50 219.83 L277.90 219.86 L278.30 219.88 L278.70 219.90 L279.10 219.92 L279.50 219.94 L279.90 219.97 L280.30 219.99 L280.70 220.01 L281.10 220.03 L281.50 220.05 L281.90 220.07 L282.30 220.10 L282.70 220.12 L283.10 220.14 L283.50 220.16 L283.90 220.18 L284.30 220.20 L284.70 220.22 L285.10 220.24 L285.50 220.26 L285.90 220.28 L286.30 220.30 L286.70 220.32 L287.10 220.34 L287.50 220.36 L287.90 220.38 L288.30 220.40 L288.70 220.42 L289.10 220.44 L289.50 220.45 L289.90 220.47 L290.30 220.49 L290.70 220.51 L291.10 220.53 L291.50 220.55 L291.90 220.56 L292.30 220.58 L292.70 220.60 L293.10 220.62 L293.50 220.63 L293.90 220.65 L294.30 220.67 L294.70 220.69 L295.10 220.70 L295.50 220.72 L295.90 220.74 L296.30 220.75 L296.70 220.77 L297.10 220.79 L297.50 220.80 L297.90 220.82 L298.30 220.83 L298.70 220.85 L299.10 220.87 L299.50 220.88 L299.90 220.90 L300.30 220.91 L300.70 220.93 L301.10 220.94 L301.50 220.96 L301.90 220.97 L302.30 220.99 L302.70 221.00 L303.10 221.02 L303.50 221.03 L303.90 221.05 L304.30 221.06 L304.70 221.08 L305.10 221.09 L305.50 221.11 L305.90 221.12 L306.30 221.14 L306.70 221.15 L307.10 221.17 L307.50 221.18 L307.90 221.20 L308.30 221.21 L308.70 221.23 L309.10 221.24 L309.50 221.26 L309.90 221.27 L310.30 221.28 L310.70 221.30 L311.10 221.31 L311.50 221.33 L311.90 221.34 L312.30 221.36 L312.70 221.37 L313.10 221.38 L313.50 221.40 L313.90 221.41 L314.30 221.43 L314.70 221.44 L315.10 221.45 L315.50 221.47 L315.90 221.48 L316.30 221.50 L316.70 221.51 L317.10 221.52 L317.50 221.54 L317.90 221.55 L318.30 221.56 L318.70 221.58 L319.10 221.59 L319.50 221.60 L319.90 221.62 L320.30 221.63 L320.70 221.64 L321.10 221.65 L321.50 221.67 L321.90 221.68 L322.30 221.69 L322.70 221.71 L323.10 221.72 L323.50 221.73 L323.90 221.74 L324.30 221.76 L324.70 221.77 L325.10 221.78 L325.50 221.79 L325.90 221.80 L326.30 221.82 L326.70 221.83 L327.10 221.84 L327.50 221.85 L327.90 221.86 L328.30 221.88 L328.70 221.89 L329.10 221.90 L329.50 221.91 L329.90 221.92 L330.30 221.93 L330.70 221.94 L331.10 221.96 L331.50 221.97 L331.90 221.98 L332.30 221.99 L332.70 222.00 L333.10 222.01 L333.50 222.02 L333.90 222.03 L334.30 222.04 L334.70 222.05 L335.10 222.06 L335.50 222.07 L335.90 222.08 L336.30 222.09 L336.70 222.10 L337.10 222.11 L337.50 222.12 L337.90 222.13 L338.30 222.14 L338.70 222.15 L339.10 222.16 L339.50 222.17 L339.90 222.18 L340.30 222.19 L340.70 222.19 L341.10 222.20 L341.50 222.21 L341.90 222.22 L342.30 222.23 L342.70 222.24 L343.10 222.25 L343.50 222.25 L343.90 222.26 L344.30 222.27 L344.70 222.28 L345.10 222.29 L345.50 222.29 L345.90 222.30 L346.30 222.31 L346.70 222.31 L347.10 222.32 L347.50 222.33 L347.90 222.34 L348.30 222.34 L348.70 222.35 L349.10 222.36 L349.50 222.36 L349.90 222.37 L350.30 222.37 L350.70 222.38 L351.10 222.39 L351.50 222.39 L351.90 222.40" fill="none" stroke="#4584c2" stroke-width="1.25" stroke-linejoin="round"/><path d="M42.1 172 L42.3 40 L42.45 -30 L42.45 -30.00 L42.85 5.37 L43.25 29.20 L43.65 52.49 L44.05 71.46 L44.45 88.07 L44.85 101.49 L45.25 113.06 L45.65 123.56 L46.05 132.44 L46.45 139.15 L46.85 143.60 L47.25 147.22 L47.65 150.30 L48.05 152.94 L48.45 155.28 L48.85 157.44 L49.25 159.54 L49.65 161.72 L50.05 163.97 L50.45 166.19 L50.85 168.36 L51.25 170.47 L51.65 172.53 L52.05 174.52 L52.45 176.44 L52.85 178.29 L53.25 180.06 L53.65 181.74 L54.05 183.33 L54.45 184.82 L54.85 186.25 L55.25 187.65 L55.65 189.03 L56.05 190.38 L56.45 191.69 L56.85 192.95 L57.25 194.15 L57.65 195.29 L58.05 196.36 L58.45 197.35 L58.85 198.25 L59.25 199.06 L59.65 199.76 L60.05 200.38 L60.45 200.97 L60.85 201.53 L61.25 202.05 L61.65 202.52 L62.05 202.91 L62.45 203.23 L62.85 203.45 L63.25 203.58 L63.65 203.69 L64.05 203.80 L64.45 203.89 L64.85 203.98 L65.25 204.05 L65.65 204.11 L66.05 204.15 L66.45 204.18 L66.85 204.20 L67.25 204.19 L67.65 204.12 L68.05 203.99 L68.45 203.80 L68.85 203.56 L69.25 203.27 L69.65 202.93 L70.05 202.55 L70.45 202.13 L70.85 201.68 L71.25 201.12 L71.65 200.19 L72.05 198.90 L72.45 197.31 L72.85 195.46 L73.25 193.39 L73.65 191.09 L74.05 188.05 L74.45 184.19 L74.85 179.58 L75.25 174.29 L75.65 167.55 L76.05 158.94 L76.45 148.57 L76.85 133.90 L77.25 118.20 L77.65 104.49 L78.05 87.72 L78.45 65.67 L78.85 53.74 L79.25 46.10 L79.65 40.11 L80.05 34.43 L80.45 28.95 L80.85 24.46 L81.25 21.77 L81.65 20.12 L82.05 19.02 L82.45 18.85 L82.85 19.37 L83.25 20.30 L83.65 21.56 L84.05 24.10 L84.45 27.66 L84.85 31.65 L85.25 35.45 L85.65 39.35 L86.05 43.58 L86.45 47.93 L86.85 52.19 L87.25 56.16 L87.65 59.61 L88.05 62.62 L88.45 65.54 L88.85 68.36 L89.25 71.10 L89.65 73.75 L90.05 76.31 L90.45 78.78 L90.85 81.17 L91.25 83.47 L91.65 85.69 L92.05 87.83 L92.45 89.89 L92.85 91.87 L93.25 93.77 L93.65 95.59 L94.05 97.33 L94.45 99.00 L94.85 100.59 L95.25 102.08 L95.65 103.48 L96.05 104.81 L96.45 106.07 L96.85 107.29 L97.25 108.46 L97.65 109.60 L98.05 110.73 L98.45 111.86 L98.85 113.00 L99.25 114.17 L99.65 115.34 L100.05 116.49 L100.45 117.59 L100.85 118.62 L101.25 119.56 L101.65 120.39 L102.05 121.08 L102.45 121.72 L102.85 122.36 L103.25 122.98 L103.65 123.56 L104.05 124.10 L104.45 124.58 L104.85 124.97 L105.25 125.27 L105.65 125.45 L106.05 125.50 L106.45 125.32 L106.85 124.89 L107.25 124.25 L107.65 123.44 L108.05 122.50 L108.45 121.47 L108.85 120.40 L109.25 119.24 L109.65 117.70 L110.05 115.84 L110.45 113.76 L110.85 111.57 L111.25 109.35 L111.65 107.20 L112.05 105.04 L112.45 102.82 L112.85 100.53 L113.25 98.16 L113.65 95.68 L114.05 93.08 L114.45 90.35 L114.85 87.39 L115.25 84.11 L115.65 80.59 L116.05 76.90 L116.45 73.12 L116.85 69.31 L117.25 65.56 L117.65 61.93 L118.05 58.51 L118.45 55.37 L118.85 52.37 L119.25 49.35 L119.65 46.50 L120.05 44.04 L120.45 42.18 L120.85 40.78 L121.25 39.50 L121.65 38.49 L122.05 37.95 L122.45 37.98 L122.85 38.43 L123.25 39.17 L123.65 40.10 L124.05 41.14 L124.45 42.65 L124.85 44.79 L125.25 47.39 L125.65 50.28 L126.05 53.29 L126.45 56.25 L126.85 59.03 L127.25 61.86 L127.65 64.79 L128.05 67.82 L128.45 70.89 L128.85 74.00 L129.25 77.10 L129.65 80.18 L130.05 83.20 L130.45 86.14 L130.85 88.97 L131.25 91.70 L131.65 94.40 L132.05 97.09 L132.45 99.75 L132.85 102.36 L133.25 104.90 L133.65 107.38 L134.05 109.76 L134.45 112.05 L134.85 114.22 L135.25 116.27 L135.65 118.22 L136.05 120.09 L136.45 121.89 L136.85 123.63 L137.25 125.32 L137.65 126.98 L138.05 128.62 L138.45 130.25 L138.85 131.88 L139.25 133.53 L139.65 135.17 L140.05 136.81 L140.45 138.43 L140.85 140.02 L141.25 141.58 L141.65 143.10 L142.05 144.57 L142.45 145.99 L142.85 147.34 L143.25 148.67 L143.65 149.96 L144.05 151.22 L144.45 152.46 L144.85 153.67 L145.25 154.85 L145.65 156.00 L146.05 157.13 L146.45 158.23 L146.85 159.31 L147.25 160.37 L147.65 161.39 L148.05 162.38 L148.45 163.34 L148.85 164.27 L149.25 165.18 L149.65 166.08 L150.05 166.98 L150.45 167.89 L150.85 168.79 L151.25 169.69 L151.65 170.57 L152.05 171.46 L152.45 172.33 L152.85 173.21 L153.25 174.08 L153.65 174.95 L154.05 175.83 L154.45 176.73 L154.85 177.65 L155.25 178.57 L155.65 179.50 L156.05 180.43 L156.45 181.34 L156.85 182.23 L157.25 183.09 L157.65 183.91 L158.05 184.69 L158.45 185.41 L158.85 186.09 L159.25 186.75 L159.65 187.39 L160.05 188.01 L160.45 188.60 L160.85 189.18 L161.25 189.75 L161.65 190.29 L162.05 190.82 L162.45 191.34 L162.85 191.85 L163.25 192.34 L163.65 192.82 L164.05 193.29 L164.45 193.76 L164.85 194.22 L165.25 194.67 L165.65 195.11 L166.05 195.54 L166.45 195.96 L166.85 196.37 L167.25 196.76 L167.65 197.14 L168.05 197.50 L168.45 197.85 L168.85 198.18 L169.25 198.49 L169.65 198.80 L170.05 199.09 L170.45 199.37 L170.85 199.64 L171.25 199.91 L171.65 200.17 L172.05 200.42 L172.45 200.66 L172.85 200.90 L173.25 201.14 L173.65 201.37 L174.05 201.59 L174.45 201.82 L174.85 202.04 L175.25 202.26 L175.65 202.47 L176.05 202.69 L176.45 202.90 L176.85 203.12 L177.25 203.33 L177.65 203.54 L178.05 203.74 L178.45 203.94 L178.85 204.14 L179.25 204.33 L179.65 204.52 L180.05 204.70 L180.45 204.88 L180.85 205.05 L181.25 205.21 L181.65 205.37 L182.05 205.52 L182.45 205.66 L182.85 205.80 L183.25 205.93 L183.65 206.06 L184.05 206.18 L184.45 206.30 L184.85 206.42 L185.25 206.54 L185.65 206.65 L186.05 206.76 L186.45 206.87 L186.85 206.97 L187.25 207.08 L187.65 207.18 L188.05 207.29 L188.45 207.39 L188.85 207.50 L189.25 207.60 L189.65 207.71 L190.05 207.81 L190.45 207.92 L190.85 208.03 L191.25 208.13 L191.65 208.24 L192.05 208.34 L192.45 208.45 L192.85 208.55 L193.25 208.66 L193.65 208.76 L194.05 208.86 L194.45 208.96 L194.85 209.06 L195.25 209.16 L195.65 209.26 L196.05 209.36 L196.45 209.46 L196.85 209.56 L197.25 209.66 L197.65 209.75 L198.05 209.85 L198.45 209.94 L198.85 210.04 L199.25 210.13 L199.65 210.22 L200.05 210.31 L200.45 210.40 L200.85 210.49 L201.25 210.58 L201.65 210.67 L202.05 210.77 L202.45 210.86 L202.85 210.95 L203.25 211.04 L203.65 211.13 L204.05 211.22 L204.45 211.31 L204.85 211.41 L205.25 211.50 L205.65 211.59 L206.05 211.68 L206.45 211.77 L206.85 211.86 L207.25 211.95 L207.65 212.04 L208.05 212.13 L208.45 212.22 L208.85 212.31 L209.25 212.40 L209.65 212.49 L210.05 212.58 L210.45 212.67 L210.85 212.76 L211.25 212.85 L211.65 212.94 L212.05 213.03 L212.45 213.11 L212.85 213.20 L213.25 213.29 L213.65 213.37 L214.05 213.46 L214.45 213.54 L214.85 213.63 L215.25 213.71 L215.65 213.80 L216.05 213.88 L216.45 213.96 L216.85 214.04 L217.25 214.13 L217.65 214.21 L218.05 214.29 L218.45 214.37 L218.85 214.45 L219.25 214.52 L219.65 214.60 L220.05 214.68 L220.45 214.75 L220.85 214.83 L221.25 214.90 L221.65 214.98 L222.05 215.05 L222.45 215.12 L222.85 215.19 L223.25 215.26 L223.65 215.33 L224.05 215.40 L224.45 215.47 L224.85 215.54 L225.25 215.60 L225.65 215.67 L226.05 215.73 L226.45 215.79 L226.85 215.85 L227.25 215.91 L227.65 215.97 L228.05 216.03 L228.45 216.09 L228.85 216.15 L229.25 216.20 L229.65 216.25 L230.05 216.31 L230.45 216.36 L230.85 216.41 L231.25 216.46 L231.65 216.51 L232.05 216.56 L232.45 216.61 L232.85 216.66 L233.25 216.71 L233.65 216.76 L234.05 216.80 L234.45 216.85 L234.85 216.90 L235.25 216.95 L235.65 216.99 L236.05 217.04 L236.45 217.08 L236.85 217.13 L237.25 217.17 L237.65 217.22 L238.05 217.26 L238.45 217.30 L238.85 217.35 L239.25 217.39 L239.65 217.43 L240.05 217.47 L240.45 217.52 L240.85 217.56 L241.25 217.60 L241.65 217.64 L242.05 217.68 L242.45 217.72 L242.85 217.76 L243.25 217.80 L243.65 217.84 L244.05 217.87 L244.45 217.91 L244.85 217.95 L245.25 217.99 L245.65 218.03 L246.05 218.06 L246.45 218.10 L246.85 218.14 L247.25 218.17 L247.65 218.21 L248.05 218.24 L248.45 218.28 L248.85 218.31 L249.25 218.35 L249.65 218.38 L250.05 218.42 L250.45 218.45 L250.85 218.49 L251.25 218.52 L251.65 218.55 L252.05 218.59 L252.45 218.62 L252.85 218.65 L253.25 218.68 L253.65 218.72 L254.05 218.75 L254.45 218.78 L254.85 218.81 L255.25 218.84 L255.65 218.87 L256.05 218.90 L256.45 218.93 L256.85 218.97 L257.25 219.00 L257.65 219.03 L258.05 219.06 L258.45 219.09 L258.85 219.12 L259.25 219.14 L259.65 219.17 L260.05 219.20 L260.45 219.23 L260.85 219.26 L261.25 219.29 L261.65 219.32 L262.05 219.35 L262.45 219.38 L262.85 219.41 L263.25 219.43 L263.65 219.46 L264.05 219.49 L264.45 219.52 L264.85 219.55 L265.25 219.57 L265.65 219.60 L266.05 219.63 L266.45 219.66 L266.85 219.68 L267.25 219.71 L267.65 219.74 L268.05 219.77 L268.45 219.79 L268.85 219.82 L269.25 219.85 L269.65 219.87 L270.05 219.90 L270.45 219.93 L270.85 219.95 L271.25 219.98 L271.65 220.01 L272.05 220.03 L272.45 220.06 L272.85 220.08 L273.25 220.11 L273.65 220.13 L274.05 220.16 L274.45 220.18 L274.85 220.21 L275.25 220.23 L275.65 220.26 L276.05 220.28 L276.45 220.31 L276.85 220.33 L277.25 220.36 L277.65 220.38 L278.05 220.40 L278.45 220.43 L278.85 220.45 L279.25 220.48 L279.65 220.50 L280.05 220.52 L280.45 220.55 L280.85 220.57 L281.25 220.59 L281.65 220.62 L282.05 220.64 L282.45 220.66 L282.85 220.68 L283.25 220.70 L283.65 220.73 L284.05 220.75 L284.45 220.77 L284.85 220.79 L285.25 220.81 L285.65 220.84 L286.05 220.86 L286.45 220.88 L286.85 220.90 L287.25 220.92 L287.65 220.94 L288.05 220.96 L288.45 220.98 L288.85 221.00 L289.25 221.02 L289.65 221.04 L290.05 221.06 L290.45 221.08 L290.85 221.10 L291.25 221.12 L291.65 221.14 L292.05 221.16 L292.45 221.18 L292.85 221.19 L293.25 221.21 L293.65 221.23 L294.05 221.25 L294.45 221.27 L294.85 221.29 L295.25 221.30 L295.65 221.32 L296.05 221.34 L296.45 221.35 L296.85 221.37 L297.25 221.39 L297.65 221.41 L298.05 221.42 L298.45 221.44 L298.85 221.45 L299.25 221.47 L299.65 221.49 L300.05 221.50 L300.45 221.52 L300.85 221.53 L301.25 221.55 L301.65 221.56 L302.05 221.58 L302.45 221.60 L302.85 221.61 L303.25 221.63 L303.65 221.64 L304.05 221.66 L304.45 221.67 L304.85 221.69 L305.25 221.70 L305.65 221.72 L306.05 221.73 L306.45 221.75 L306.85 221.76 L307.25 221.78 L307.65 221.79 L308.05 221.81 L308.45 221.82 L308.85 221.84 L309.25 221.85 L309.65 221.87 L310.05 221.88 L310.45 221.90 L310.85 221.91 L311.25 221.93 L311.65 221.94 L312.05 221.95 L312.45 221.97 L312.85 221.98 L313.25 222.00 L313.65 222.01 L314.05 222.03 L314.45 222.04 L314.85 222.05 L315.25 222.07 L315.65 222.08 L316.05 222.10 L316.45 222.11 L316.85 222.12 L317.25 222.14 L317.65 222.15 L318.05 222.16 L318.45 222.18 L318.85 222.19 L319.25 222.21 L319.65 222.22 L320.05 222.23 L320.45 222.25 L320.85 222.26 L321.25 222.27 L321.65 222.28 L322.05 222.30 L322.45 222.31 L322.85 222.32 L323.25 222.34 L323.65 222.35 L324.05 222.36 L324.45 222.37 L324.85 222.39 L325.25 222.40 L325.65 222.41 L326.05 222.42 L326.45 222.43 L326.85 222.45 L327.25 222.46 L327.65 222.47 L328.05 222.48 L328.45 222.49 L328.85 222.51 L329.25 222.52 L329.65 222.53 L330.05 222.54 L330.45 222.55 L330.85 222.56 L331.25 222.57 L331.65 222.58 L332.05 222.60 L332.45 222.61 L332.85 222.62 L333.25 222.63 L333.65 222.64 L334.05 222.65 L334.45 222.66 L334.85 222.67 L335.25 222.68 L335.65 222.69 L336.05 222.70 L336.45 222.71 L336.85 222.72 L337.25 222.73 L337.65 222.74 L338.05 222.75 L338.45 222.76 L338.85 222.76 L339.25 222.77 L339.65 222.78 L340.05 222.79 L340.45 222.80 L340.85 222.81 L341.25 222.82 L341.65 222.83 L342.05 222.83 L342.45 222.84 L342.85 222.85 L343.25 222.86 L343.65 222.87 L344.05 222.87 L344.45 222.88 L344.85 222.89 L345.25 222.90 L345.65 222.90 L346.05 222.91 L346.45 222.92 L346.85 222.92 L347.25 222.93 L347.65 222.94 L348.05 222.94 L348.45 222.95 L348.85 222.96 L349.25 222.96 L349.65 222.97 L350.05 222.97 L350.45 222.98 L350.85 222.98 L351.25 222.99 L351.65 223.00" fill="none" stroke="#a6c66e" stroke-width="1.25" stroke-linejoin="round"/><path d="M41.5 223 L41.7 165 M42.3 79.5 L42.30 79.50 L42.70 82.00 L43.10 90.95 L43.50 102.76 L43.90 114.35 L44.30 126.37 L44.70 138.16 L45.10 150.05 L45.50 160.00 L45.90 165.93 L46.30 170.98 L46.70 175.25 L47.10 178.85 L47.50 181.87 L47.90 184.42 L48.30 186.66 L48.70 188.77 L49.10 190.75 L49.50 192.58 L49.90 194.26 L50.30 195.76 L50.70 197.09 L51.10 198.22 L51.50 199.15 L51.90 199.86 L52.30 200.40 L52.70 200.90 L53.10 201.38 L53.50 201.84 L53.90 202.27 L54.30 202.67 L54.70 203.05 L55.10 203.41 L55.50 203.74 L55.90 204.05 L56.30 204.34 L56.70 204.60 L57.10 204.85 L57.50 205.07 L57.90 205.27 L58.30 205.45 L58.70 205.61 L59.10 205.75 L59.50 205.87 L59.90 205.98 L60.30 206.07 L60.70 206.15 L61.10 206.24 L61.50 206.32 L61.90 206.40 L62.30 206.48 L62.70 206.56 L63.10 206.63 L63.50 206.70 L63.90 206.77 L64.30 206.84 L64.70 206.90 L65.10 206.96 L65.50 207.02 L65.90 207.07 L66.30 207.13 L66.70 207.17 L67.10 207.22 L67.50 207.26 L67.90 207.30 L68.30 207.34 L68.70 207.37 L69.10 207.40 L69.50 207.42 L69.90 207.45 L70.30 207.46 L70.70 207.48 L71.10 207.49 L71.50 207.50 L71.90 207.50 L72.30 207.49 L72.70 207.46 L73.10 207.41 L73.50 207.34 L73.90 207.24 L74.30 207.13 L74.70 206.99 L75.10 206.84 L75.50 206.66 L75.90 206.47 L76.30 206.27 L76.70 206.05 L77.10 205.81 L77.50 205.56 L77.90 205.29 L78.30 205.01 L78.70 204.72 L79.10 204.42 L79.50 204.01 L79.90 203.45 L80.30 202.78 L80.70 202.00 L81.10 201.11 L81.50 200.15 L81.90 199.11 L82.30 198.02 L82.70 196.88 L83.10 195.70 L83.50 194.31 L83.90 192.69 L84.30 190.90 L84.70 188.98 L85.10 187.00 L85.50 185.00 L85.90 182.96 L86.30 180.83 L86.70 178.59 L87.10 176.27 L87.50 173.86 L87.90 171.37 L88.30 168.71 L88.70 165.92 L89.10 163.04 L89.50 160.15 L89.90 157.29 L90.30 154.43 L90.70 151.54 L91.10 148.64 L91.50 145.73 L91.90 142.83 L92.30 139.96 L92.70 137.11 L93.10 134.31 L93.50 131.59 L93.90 128.95 L94.30 126.31 L94.70 123.65 L95.10 120.89 L95.50 118.00 L95.90 114.94 L96.30 111.74 L96.70 108.44 L97.10 105.08 L97.50 101.69 L97.90 98.31 L98.30 94.91 L98.70 91.48 L99.10 88.01 L99.50 84.49 L99.90 80.90 L100.30 77.18 L100.70 73.21 L101.10 69.24 L101.50 65.50 L101.90 62.22 L102.30 59.05 L102.70 56.12 L103.10 53.80 L103.50 52.34 L103.90 51.12 L104.30 50.14 L104.70 49.58 L105.10 49.54 L105.50 49.86 L105.90 50.38 L106.30 51.02 L106.70 51.66 L107.10 52.42 L107.50 53.32 L107.90 54.34 L108.30 55.43 L108.70 56.60 L109.10 57.95 L109.50 59.41 L109.90 60.91 L110.30 62.35 L110.70 63.78 L111.10 65.21 L111.50 66.65 L111.90 68.10 L112.30 69.54 L112.70 70.98 L113.10 72.41 L113.50 73.83 L113.90 75.24 L114.30 76.62 L114.70 77.99 L115.10 79.33 L115.50 80.66 L115.90 81.98 L116.30 83.29 L116.70 84.58 L117.10 85.87 L117.50 87.15 L117.90 88.42 L118.30 89.68 L118.70 90.92 L119.10 92.16 L119.50 93.40 L119.90 94.62 L120.30 95.83 L120.70 97.03 L121.10 98.23 L121.50 99.41 L121.90 100.59 L122.30 101.79 L122.70 103.00 L123.10 104.21 L123.50 105.41 L123.90 106.59 L124.30 107.74 L124.70 108.84 L125.10 109.89 L125.50 110.88 L125.90 111.79 L126.30 112.63 L126.70 113.44 L127.10 114.22 L127.50 114.98 L127.90 115.71 L128.30 116.42 L128.70 117.10 L129.10 117.77 L129.50 118.41 L129.90 119.03 L130.30 119.63 L130.70 120.21 L131.10 120.78 L131.50 121.33 L131.90 121.87 L132.30 122.40 L132.70 122.93 L133.10 123.47 L133.50 124.00 L133.90 124.53 L134.30 125.05 L134.70 125.55 L135.10 126.03 L135.50 126.49 L135.90 126.91 L136.30 127.31 L136.70 127.66 L137.10 127.97 L137.50 128.24 L137.90 128.46 L138.30 128.63 L138.70 128.80 L139.10 128.96 L139.50 129.12 L139.90 129.27 L140.30 129.40 L140.70 129.53 L141.10 129.65 L141.50 129.75 L141.90 129.84 L142.30 129.91 L142.70 129.96 L143.10 129.99 L143.50 130.00 L143.90 129.96 L144.30 129.86 L144.70 129.70 L145.10 129.49 L145.50 129.23 L145.90 128.93 L146.30 128.60 L146.70 128.25 L147.10 127.87 L147.50 127.49 L147.90 127.10 L148.30 126.69 L148.70 126.21 L149.10 125.67 L149.50 125.06 L149.90 124.39 L150.30 123.66 L150.70 122.88 L151.10 122.05 L151.50 121.17 L151.90 120.24 L152.30 119.24 L152.70 118.10 L153.10 116.83 L153.50 115.44 L153.90 113.94 L154.30 112.33 L154.70 110.63 L155.10 108.85 L155.50 107.00 L155.90 104.92 L156.30 102.53 L156.70 99.92 L157.10 97.18 L157.50 94.41 L157.90 91.71 L158.30 89.18 L158.70 86.87 L159.10 84.63 L159.50 82.45 L159.90 80.36 L160.30 78.35 L160.70 76.45 L161.10 74.64 L161.50 72.83 L161.90 71.07 L162.30 69.43 L162.70 67.98 L163.10 66.76 L163.50 65.73 L163.90 64.71 L164.30 63.87 L164.70 63.37 L165.10 63.37 L165.50 63.85 L165.90 64.68 L166.30 65.71 L166.70 66.80 L167.10 68.05 L167.50 69.62 L167.90 71.45 L168.30 73.47 L168.70 75.61 L169.10 77.81 L169.50 80.00 L169.90 82.26 L170.30 84.69 L170.70 87.26 L171.10 89.93 L171.50 92.67 L171.90 95.44 L172.30 98.21 L172.70 100.94 L173.10 103.61 L173.50 106.17 L173.90 108.59 L174.30 110.95 L174.70 113.28 L175.10 115.57 L175.50 117.82 L175.90 120.04 L176.30 122.21 L176.70 124.35 L177.10 126.44 L177.50 128.49 L177.90 130.50 L178.30 132.47 L178.70 134.41 L179.10 136.32 L179.50 138.20 L179.90 140.05 L180.30 141.87 L180.70 143.65 L181.10 145.39 L181.50 147.10 L181.90 148.77 L182.30 150.41 L182.70 152.03 L183.10 153.65 L183.50 155.24 L183.90 156.81 L184.30 158.33 L184.70 159.79 L185.10 161.18 L185.50 162.49 L185.90 163.71 L186.30 164.84 L186.70 165.91 L187.10 166.92 L187.50 167.89 L187.90 168.83 L188.30 169.73 L188.70 170.60 L189.10 171.45 L189.50 172.29 L189.90 173.12 L190.30 173.95 L190.70 174.79 L191.10 175.63 L191.50 176.48 L191.90 177.33 L192.30 178.18 L192.70 179.02 L193.10 179.85 L193.50 180.67 L193.90 181.48 L194.30 182.28 L194.70 183.05 L195.10 183.81 L195.50 184.54 L195.90 185.24 L196.30 185.91 L196.70 186.55 L197.10 187.15 L197.50 187.73 L197.90 188.29 L198.30 188.83 L198.70 189.36 L199.10 189.88 L199.50 190.38 L199.90 190.86 L200.30 191.34 L200.70 191.80 L201.10 192.26 L201.50 192.70 L201.90 193.13 L202.30 193.56 L202.70 193.98 L203.10 194.39 L203.50 194.80 L203.90 195.20 L204.30 195.60 L204.70 195.99 L205.10 196.37 L205.50 196.75 L205.90 197.12 L206.30 197.49 L206.70 197.85 L207.10 198.20 L207.50 198.54 L207.90 198.88 L208.30 199.20 L208.70 199.52 L209.10 199.83 L209.50 200.14 L209.90 200.43 L210.30 200.71 L210.70 200.99 L211.10 201.26 L211.50 201.53 L211.90 201.79 L212.30 202.05 L212.70 202.30 L213.10 202.55 L213.50 202.79 L213.90 203.03 L214.30 203.26 L214.70 203.49 L215.10 203.72 L215.50 203.94 L215.90 204.16 L216.30 204.37 L216.70 204.58 L217.10 204.79 L217.50 205.00 L217.90 205.21 L218.30 205.41 L218.70 205.61 L219.10 205.81 L219.50 206.01 L219.90 206.21 L220.30 206.41 L220.70 206.60 L221.10 206.80 L221.50 206.99 L221.90 207.18 L222.30 207.37 L222.70 207.55 L223.10 207.74 L223.50 207.92 L223.90 208.10 L224.30 208.27 L224.70 208.45 L225.10 208.62 L225.50 208.79 L225.90 208.96 L226.30 209.12 L226.70 209.28 L227.10 209.44 L227.50 209.60 L227.90 209.75 L228.30 209.90 L228.70 210.05 L229.10 210.19 L229.50 210.33 L229.90 210.47 L230.30 210.60 L230.70 210.73 L231.10 210.86 L231.50 210.99 L231.90 211.12 L232.30 211.24 L232.70 211.37 L233.10 211.49 L233.50 211.61 L233.90 211.73 L234.30 211.85 L234.70 211.97 L235.10 212.08 L235.50 212.20 L235.90 212.31 L236.30 212.42 L236.70 212.53 L237.10 212.64 L237.50 212.74 L237.90 212.85 L238.30 212.95 L238.70 213.05 L239.10 213.16 L239.50 213.26 L239.90 213.35 L240.30 213.45 L240.70 213.55 L241.10 213.64 L241.50 213.74 L241.90 213.83 L242.30 213.92 L242.70 214.01 L243.10 214.10 L243.50 214.18 L243.90 214.27 L244.30 214.35 L244.70 214.44 L245.10 214.52 L245.50 214.60 L245.90 214.68 L246.30 214.76 L246.70 214.84 L247.10 214.92 L247.50 215.00 L247.90 215.07 L248.30 215.15 L248.70 215.23 L249.10 215.30 L249.50 215.37 L249.90 215.45 L250.30 215.52 L250.70 215.59 L251.10 215.66 L251.50 215.73 L251.90 215.80 L252.30 215.86 L252.70 215.93 L253.10 216.00 L253.50 216.06 L253.90 216.13 L254.30 216.19 L254.70 216.25 L255.10 216.31 L255.50 216.37 L255.90 216.43 L256.30 216.49 L256.70 216.55 L257.10 216.61 L257.50 216.67 L257.90 216.72 L258.30 216.78 L258.70 216.83 L259.10 216.88 L259.50 216.94 L259.90 216.99 L260.30 217.04 L260.70 217.09 L261.10 217.14 L261.50 217.19 L261.90 217.24 L262.30 217.29 L262.70 217.33 L263.10 217.38 L263.50 217.43 L263.90 217.48 L264.30 217.52 L264.70 217.57 L265.10 217.62 L265.50 217.66 L265.90 217.71 L266.30 217.75 L266.70 217.80 L267.10 217.84 L267.50 217.89 L267.90 217.93 L268.30 217.97 L268.70 218.01 L269.10 218.06 L269.50 218.10 L269.90 218.14 L270.30 218.18 L270.70 218.22 L271.10 218.26 L271.50 218.30 L271.90 218.34 L272.30 218.38 L272.70 218.41 L273.10 218.45 L273.50 218.49 L273.90 218.52 L274.30 218.56 L274.70 218.59 L275.10 218.63 L275.50 218.66 L275.90 218.69 L276.30 218.73 L276.70 218.76 L277.10 218.79 L277.50 218.82 L277.90 218.85 L278.30 218.88 L278.70 218.91 L279.10 218.94 L279.50 218.97 L279.90 218.99 L280.30 219.02 L280.70 219.05 L281.10 219.07 L281.50 219.10 L281.90 219.12 L282.30 219.15 L282.70 219.17 L283.10 219.20 L283.50 219.22 L283.90 219.24 L284.30 219.27 L284.70 219.29 L285.10 219.31 L285.50 219.34 L285.90 219.36 L286.30 219.38 L286.70 219.40 L287.10 219.42 L287.50 219.44 L287.90 219.47 L288.30 219.49 L288.70 219.51 L289.10 219.53 L289.50 219.55 L289.90 219.57 L290.30 219.59 L290.70 219.61 L291.10 219.62 L291.50 219.64 L291.90 219.66 L292.30 219.68 L292.70 219.70 L293.10 219.72 L293.50 219.73 L293.90 219.75 L294.30 219.77 L294.70 219.79 L295.10 219.80 L295.50 219.82 L295.90 219.84 L296.30 219.85 L296.70 219.87 L297.10 219.89 L297.50 219.90 L297.90 219.92 L298.30 219.93 L298.70 219.95 L299.10 219.97 L299.50 219.98 L299.90 220.00 L300.30 220.01 L300.70 220.03 L301.10 220.04 L301.50 220.06 L301.90 220.07 L302.30 220.09 L302.70 220.10 L303.10 220.12 L303.50 220.13 L303.90 220.15 L304.30 220.16 L304.70 220.18 L305.10 220.19 L305.50 220.21 L305.90 220.22 L306.30 220.24 L306.70 220.25 L307.10 220.27 L307.50 220.28 L307.90 220.30 L308.30 220.31 L308.70 220.33 L309.10 220.34 L309.50 220.35 L309.90 220.37 L310.30 220.38 L310.70 220.40 L311.10 220.41 L311.50 220.43 L311.90 220.44 L312.30 220.46 L312.70 220.47 L313.10 220.48 L313.50 220.50 L313.90 220.51 L314.30 220.53 L314.70 220.54 L315.10 220.55 L315.50 220.57 L315.90 220.58 L316.30 220.59 L316.70 220.61 L317.10 220.62 L317.50 220.64 L317.90 220.65 L318.30 220.66 L318.70 220.68 L319.10 220.69 L319.50 220.70 L319.90 220.72 L320.30 220.73 L320.70 220.74 L321.10 220.76 L321.50 220.77 L321.90 220.78 L322.30 220.79 L322.70 220.81 L323.10 220.82 L323.50 220.83 L323.90 220.84 L324.30 220.86 L324.70 220.87 L325.10 220.88 L325.50 220.89 L325.90 220.91 L326.30 220.92 L326.70 220.93 L327.10 220.94 L327.50 220.95 L327.90 220.97 L328.30 220.98 L328.70 220.99 L329.10 221.00 L329.50 221.01 L329.90 221.02 L330.30 221.04 L330.70 221.05 L331.10 221.06 L331.50 221.07 L331.90 221.08 L332.30 221.09 L332.70 221.10 L333.10 221.11 L333.50 221.12 L333.90 221.13 L334.30 221.14 L334.70 221.15 L335.10 221.16 L335.50 221.17 L335.90 221.18 L336.30 221.19 L336.70 221.20 L337.10 221.21 L337.50 221.22 L337.90 221.23 L338.30 221.24 L338.70 221.25 L339.10 221.26 L339.50 221.27 L339.90 221.28 L340.30 221.29 L340.70 221.30 L341.10 221.31 L341.50 221.31 L341.90 221.32 L342.30 221.33 L342.70 221.34 L343.10 221.35 L343.50 221.36 L343.90 221.36 L344.30 221.37 L344.70 221.38 L345.10 221.39 L345.50 221.40 L345.90 221.40 L346.30 221.41 L346.70 221.42 L347.10 221.42 L347.50 221.43 L347.90 221.44 L348.30 221.44 L348.70 221.45 L349.10 221.46 L349.50 221.46 L349.90 221.47 L350.30 221.48 L350.70 221.48 L351.10 221.49 L351.50 221.49 L351.90 221.50" fill="none" stroke="#1c1c1c" stroke-width="1.25" stroke-linejoin="round"/><path d="M42.1 172 L42.3 40 L42.45 -30 L42.45 -30.00 L42.55 -18.96 L42.65 -9.19 L42.75 -1.26 L42.85 5.37 L42.95 11.30 L43.05 17.04 L43.15 23.04 L43.25 29.20 L43.35 35.34 L43.45 41.35 L43.55 47.10 L43.65 52.49 L43.75 57.43 L43.85 62.23 L43.95 66.91 L44.05 71.46 L44.15 75.86 L44.25 80.11 L44.35 84.19 L44.45 88.07 L44.55 91.76 L44.65 95.23 L44.75 98.47 L44.85 101.49 L44.95 104.46" fill="none" stroke="#a6c66e" stroke-width="1.25" stroke-linejoin="round"/><path d="M42.2 3.5 L42.5 30 L42.8 55 L43.0 75 L43.3 95 L43.6 110" fill="none" stroke="#7a9b4e" stroke-width="1.7"/><path d="M41.30 226.00 L41.40 222.77 L41.50 221.34 L41.60 220.69 L41.70 220.37 L41.80 220.19 L41.90 220.07 L42.00 219.96 L42.10 219.85 L42.20 219.73 L42.30 219.61 L42.40 219.48 L42.50 219.35 L42.60 219.22 L42.70 219.09 L42.80 218.97 L42.90 218.84 L43.00 218.72 L43.10 218.60 L43.20 218.48 L43.30 218.37 L43.40 218.26 L43.50 218.15 L43.60 218.04 L43.70 217.93 L43.80 217.83 L43.90 217.73 L44.00 217.64 L44.10 217.54 L44.20 217.45 L44.30 217.36 L44.40 217.27 L44.50 217.19 L44.60 217.11 L44.70 217.03 L44.80 216.96 L44.90 216.88 L45.00 216.81 L45.10 216.74 L45.20 216.68 L45.30 216.61 L45.40 216.55 L45.50 216.49 L45.60 216.44 L45.70 216.38 L45.80 216.33 L45.90 216.27 L46.00 216.22 L46.00 216.22 L46.50 215.98 L47.00 215.75 L47.50 215.55 L48.00 215.36 L48.50 215.19 L49.00 215.03 L49.50 214.88 L50.00 214.73 L50.50 214.60 L51.00 214.47 L51.50 214.35 L52.00 214.24 L52.50 214.12 L53.00 214.01 L53.50 213.91 L54.00 213.80 L54.50 213.70 L55.00 213.60 L55.50 213.50 L56.00 213.40 L56.50 213.30 L57.00 213.21 L57.50 213.12 L58.00 213.03 L58.50 212.94 L59.00 212.85 L59.50 212.76 L60.00 212.67 L60.50 212.58 L61.00 212.49 L61.50 212.41 L62.00 212.32 L62.50 212.24 L63.00 212.15 L63.50 212.06 L64.00 211.98 L64.50 211.90 L65.00 211.81 L65.50 211.73 L66.00 211.64 L66.50 211.56 L67.00 211.48 L67.50 211.40 L68.00 211.31 L68.50 211.23 L69.00 211.15 L69.50 211.07 L70.00 210.99 L70.50 210.90 L71.00 210.82 L71.50 210.74 L72.00 210.66 L72.50 210.58 L73.00 210.50 L73.50 210.41 L74.00 210.33 L74.50 210.25 L75.00 210.17 L75.50 210.08 L76.00 210.00 L76.50 209.91 L77.00 209.82 L77.50 209.73 L78.00 209.64 L78.50 209.55 L79.00 209.45 L79.50 209.36 L80.00 209.26 L80.50 209.16 L81.00 209.05 L81.50 208.94 L82.00 208.83 L82.50 208.70 L83.00 208.57 L83.50 208.44 L84.00 208.29 L84.50 208.14 L85.00 207.98 L85.50 207.80 L86.00 207.62 L86.50 207.42 L87.00 207.21 L87.50 206.99 L88.00 206.75 L88.50 206.50 L89.00 206.23 L89.50 205.95 L90.00 205.65 L90.50 205.34 L91.00 205.01 L91.50 204.67 L92.00 204.30 L92.50 203.93 L93.00 203.53 L93.50 203.13 L94.00 202.70 L94.50 202.27 L95.00 201.81 L95.50 201.35 L96.00 200.86 L96.50 200.36 L97.00 199.84 L97.50 199.31 L98.00 198.75 L98.50 198.17 L99.00 197.58 L99.50 196.97 L100.00 196.33 L100.50 195.68 L101.00 195.01 L101.50 194.31 L102.00 193.60 L102.50 192.86 L103.00 192.11 L103.50 191.35 L104.00 190.59 L104.50 189.81 L105.00 189.04 L105.50 188.26 L106.00 187.49 L106.50 186.72 L107.00 185.95 L107.50 185.19 L108.00 184.43 L108.50 183.68 L109.00 182.93 L109.50 182.20 L110.00 181.47 L110.50 180.75 L111.00 180.03 L111.50 179.33 L112.00 178.63 L112.50 177.94 L113.00 177.26 L113.50 176.59 L114.00 175.92 L114.50 175.26 L115.00 174.61 L115.50 173.97 L116.00 173.33 L116.50 172.70 L117.00 172.08 L117.50 171.47 L118.00 170.86 L118.50 170.26 L119.00 169.67 L119.50 169.08 L120.00 168.50 L120.50 167.93 L121.00 167.36 L121.50 166.80 L122.00 166.24 L122.50 165.70 L123.00 165.16 L123.50 164.62 L124.00 164.10 L124.50 163.57 L125.00 163.06 L125.50 162.55 L126.00 162.05 L126.50 161.55 L127.00 161.05 L127.50 160.56 L128.00 160.07 L128.50 159.59 L129.00 159.11 L129.50 158.64 L130.00 158.17 L130.50 157.70 L131.00 157.23 L131.50 156.77 L132.00 156.31 L132.50 155.85 L133.00 155.40 L133.50 154.95 L134.00 154.50 L134.50 154.06 L135.00 153.62 L135.50 153.18 L136.00 152.74 L136.50 152.31 L137.00 151.87 L137.50 151.44 L138.00 151.01 L138.50 150.59 L139.00 150.16 L139.50 149.73 L140.00 149.30 L140.50 148.88 L141.00 148.46 L141.50 148.03 L142.00 147.61 L142.50 147.19 L143.00 146.76 L143.50 146.34 L144.00 145.92 L144.50 145.49 L145.00 145.07 L145.50 144.65 L146.00 144.22 L146.50 143.79 L147.00 143.36 L147.50 142.93 L148.00 142.49 L148.50 142.06 L149.00 141.62 L149.50 141.17 L150.00 140.73 L150.50 140.28 L151.00 139.82 L151.50 139.36 L152.00 138.90 L152.50 138.43 L153.00 137.96 L153.50 137.47 L154.00 136.98 L154.50 136.48 L155.00 135.97 L155.50 135.46 L156.00 134.93 L156.50 134.38 L157.00 133.83 L157.50 133.26 L158.00 132.67 L158.50 132.07 L159.00 131.46 L159.50 130.83 L160.00 130.19 L160.50 129.54 L161.00 128.89 L161.50 128.22 L162.00 127.54 L162.50 126.85 L163.00 126.15 L163.50 125.45 L164.00 124.74 L164.50 124.03 L165.00 123.31 L165.50 122.60 L166.00 121.89 L166.50 121.18 L167.00 120.48 L167.50 119.79 L168.00 119.11 L168.50 118.43 L169.00 117.77 L169.50 117.12 L170.00 116.49 L170.50 115.87 L171.00 115.26 L171.50 114.66 L172.00 114.08 L172.50 113.52 L173.00 112.97 L173.50 112.44 L174.00 111.91 L174.50 111.41 L175.00 110.91 L175.50 110.43 L176.00 109.96 L176.50 109.50 L177.00 109.06 L177.50 108.62 L178.00 108.20 L178.50 107.79 L179.00 107.38 L179.50 106.99 L180.00 106.61 L180.50 106.24 L181.00 105.88 L181.50 105.53 L182.00 105.18 L182.50 104.85 L183.00 104.52 L183.50 104.21 L184.00 103.90 L184.50 103.60 L185.00 103.31 L185.50 103.03 L186.00 102.75 L186.50 102.48 L187.00 102.22 L187.50 101.96 L188.00 101.71 L188.50 101.46 L189.00 101.22 L189.50 100.98 L190.00 100.74 L190.50 100.51 L191.00 100.29 L191.50 100.07 L192.00 99.85 L192.50 99.64 L193.00 99.44 L193.50 99.24 L194.00 99.04 L194.50 98.85 L195.00 98.66 L195.50 98.47 L196.00 98.29 L196.50 98.11 L197.00 97.94 L197.50 97.77 L198.00 97.60 L198.50 97.44 L199.00 97.28 L199.50 97.12 L200.00 96.97 L200.50 96.81 L201.00 96.66 L201.50 96.52 L202.00 96.37 L202.50 96.23 L203.00 96.09 L203.50 95.95 L204.00 95.81 L204.50 95.68 L205.00 95.55 L205.50 95.42 L206.00 95.29 L206.50 95.16 L207.00 95.04 L207.50 94.92 L208.00 94.80 L208.50 94.68 L209.00 94.56 L209.50 94.45 L210.00 94.34 L210.50 94.22 L211.00 94.11 L211.50 94.01 L212.00 93.90 L212.50 93.79 L213.00 93.69 L213.50 93.59 L214.00 93.48 L214.50 93.38 L215.00 93.29 L215.50 93.19 L216.00 93.09 L216.50 93.00 L217.00 92.90 L217.50 92.81 L218.00 92.72 L218.50 92.63 L219.00 92.54 L219.50 92.45 L220.00 92.36 L220.50 92.27 L221.00 92.19 L221.50 92.10 L222.00 92.02 L222.50 91.94 L223.00 91.86 L223.50 91.78 L224.00 91.70 L224.50 91.62 L225.00 91.54 L225.50 91.47 L226.00 91.39 L226.50 91.32 L227.00 91.24 L227.50 91.17 L228.00 91.10 L228.50 91.03 L229.00 90.96 L229.50 90.89 L230.00 90.82 L230.50 90.75 L231.00 90.69 L231.50 90.62 L232.00 90.55 L232.50 90.49 L233.00 90.43 L233.50 90.36 L234.00 90.30 L234.50 90.24 L235.00 90.17 L235.50 90.11 L236.00 90.05 L236.50 89.99 L237.00 89.93 L237.50 89.88 L238.00 89.82 L238.50 89.76 L239.00 89.70 L239.50 89.65 L240.00 89.59 L240.50 89.54 L241.00 89.48 L241.50 89.43 L242.00 89.37 L242.50 89.32 L243.00 89.27 L243.50 89.21 L244.00 89.16 L244.50 89.11 L245.00 89.06 L245.50 89.01 L246.00 88.96 L246.50 88.91 L247.00 88.86 L247.50 88.81 L248.00 88.76 L248.50 88.72 L249.00 88.67 L249.50 88.62 L250.00 88.58 L250.50 88.53 L251.00 88.48 L251.50 88.44 L252.00 88.39 L252.50 88.35 L253.00 88.30 L253.50 88.26 L254.00 88.22 L254.50 88.17 L255.00 88.13 L255.50 88.09 L256.00 88.05 L256.50 88.00 L257.00 87.96 L257.50 87.92 L258.00 87.88 L258.50 87.84 L259.00 87.80 L259.50 87.76 L260.00 87.72 L260.50 87.68 L261.00 87.64 L261.50 87.60 L262.00 87.56 L262.50 87.53 L263.00 87.49 L263.50 87.45 L264.00 87.41 L264.50 87.37 L265.00 87.34 L265.50 87.30 L266.00 87.26 L266.50 87.23 L267.00 87.19 L267.50 87.16 L268.00 87.12 L268.50 87.09 L269.00 87.05 L269.50 87.02 L270.00 86.98 L270.50 86.95 L271.00 86.91 L271.50 86.88 L272.00 86.84 L272.50 86.81 L273.00 86.78 L273.50 86.74 L274.00 86.71 L274.50 86.68 L275.00 86.65 L275.50 86.61 L276.00 86.58 L276.50 86.55 L277.00 86.52 L277.50 86.49 L278.00 86.45 L278.50 86.42 L279.00 86.39 L279.50 86.36 L280.00 86.33 L280.50 86.30 L281.00 86.27 L281.50 86.24 L282.00 86.21 L282.50 86.18 L283.00 86.15 L283.50 86.12 L284.00 86.09 L284.50 86.06 L285.00 86.03 L285.50 86.00 L286.00 85.97 L286.50 85.94 L287.00 85.91 L287.50 85.88 L288.00 85.85 L288.50 85.83 L289.00 85.80 L289.50 85.77 L290.00 85.74 L290.50 85.71 L291.00 85.68 L291.50 85.66 L292.00 85.63 L292.50 85.60 L293.00 85.57 L293.50 85.54 L294.00 85.52 L294.50 85.49 L295.00 85.46 L295.50 85.44 L296.00 85.41 L296.50 85.38 L297.00 85.35 L297.50 85.33 L298.00 85.30 L298.50 85.27 L299.00 85.25 L299.50 85.22 L300.00 85.19 L300.50 85.17 L301.00 85.14 L301.50 85.12 L302.00 85.09 L302.50 85.06 L303.00 85.04 L303.50 85.01 L304.00 84.99 L304.50 84.96 L305.00 84.93 L305.50 84.91 L306.00 84.88 L306.50 84.86 L307.00 84.83 L307.50 84.81 L308.00 84.78 L308.50 84.76 L309.00 84.73 L309.50 84.71 L310.00 84.68 L310.50 84.66 L311.00 84.63 L311.50 84.61 L312.00 84.58 L312.50 84.56 L313.00 84.54 L313.50 84.51 L314.00 84.49 L314.50 84.46 L315.00 84.44 L315.50 84.41 L316.00 84.39 L316.50 84.37 L317.00 84.34 L317.50 84.32 L318.00 84.30 L318.50 84.27 L319.00 84.25 L319.50 84.23 L320.00 84.20 L320.50 84.18 L321.00 84.16 L321.50 84.13 L322.00 84.11 L322.50 84.09 L323.00 84.06 L323.50 84.04 L324.00 84.02 L324.50 84.00 L325.00 83.97 L325.50 83.95 L326.00 83.93 L326.50 83.91 L327.00 83.88 L327.50 83.86 L328.00 83.84 L328.50 83.82 L329.00 83.80 L329.50 83.77 L330.00 83.75 L330.50 83.73 L331.00 83.71 L331.50 83.69 L332.00 83.66 L332.50 83.64 L333.00 83.62 L333.50 83.60 L334.00 83.58 L334.50 83.56 L335.00 83.54 L335.50 83.51 L336.00 83.49 L336.50 83.47 L337.00 83.45 L337.50 83.43 L338.00 83.41 L338.50 83.39 L339.00 83.37 L339.50 83.35 L340.00 83.33 L340.50 83.30 L341.00 83.28 L341.50 83.26 L342.00 83.24 L342.50 83.22 L343.00 83.20 L343.50 83.18 L344.00 83.16 L344.50 83.14 L345.00 83.12 L345.50 83.10 L346.00 83.08 L346.50 83.06 L347.00 83.04 L347.50 83.02 L348.00 83.00 L348.50 82.98 L349.00 82.96 L349.50 82.94 L350.00 82.92 L350.50 82.90 L351.00 82.88 L351.50 82.86 L352.00 82.84" fill="none" stroke="#1c1c1c" stroke-width="1.25" stroke-linejoin="round"/><path d="M41.30 226.00 L41.40 221.86 L41.50 220.04 L41.60 219.22 L41.70 218.83 L41.80 218.62 L41.90 218.48 L42.00 218.36 L42.10 218.25 L42.20 218.13 L42.30 218.01 L42.40 217.88 L42.50 217.75 L42.60 217.62 L42.70 217.49 L42.80 217.37 L42.90 217.24 L43.00 217.12 L43.10 217.00 L43.20 216.88 L43.30 216.77 L43.40 216.66 L43.50 216.55 L43.60 216.44 L43.70 216.34 L43.80 216.23 L43.90 216.13 L44.00 216.04 L44.10 215.95 L44.20 215.86 L44.30 215.77 L44.40 215.68 L44.50 215.60 L44.60 215.52 L44.70 215.44 L44.80 215.37 L44.90 215.29 L45.00 215.22 L45.10 215.15 L45.20 215.08 L45.30 215.01 L45.40 214.95 L45.50 214.88 L45.60 214.82 L45.70 214.76 L45.80 214.70 L45.90 214.64 L46.00 214.58 L46.00 214.58 L46.50 214.30 L47.00 214.05 L47.50 213.82 L48.00 213.61 L48.50 213.42 L49.00 213.24 L49.50 213.07 L50.00 212.91 L50.50 212.76 L51.00 212.62 L51.50 212.49 L52.00 212.36 L52.50 212.24 L53.00 212.13 L53.50 212.02 L54.00 211.90 L54.50 211.80 L55.00 211.69 L55.50 211.59 L56.00 211.49 L56.50 211.39 L57.00 211.29 L57.50 211.20 L58.00 211.10 L58.50 211.01 L59.00 210.92 L59.50 210.83 L60.00 210.73 L60.50 210.64 L61.00 210.56 L61.50 210.47 L62.00 210.38 L62.50 210.29 L63.00 210.20 L63.50 210.12 L64.00 210.03 L64.50 209.94 L65.00 209.86 L65.50 209.77 L66.00 209.69 L66.50 209.60 L67.00 209.52 L67.50 209.43 L68.00 209.35 L68.50 209.27 L69.00 209.18 L69.50 209.10 L70.00 209.02 L70.50 208.93 L71.00 208.85 L71.50 208.76 L72.00 208.68 L72.50 208.59 L73.00 208.51 L73.50 208.42 L74.00 208.33 L74.50 208.24 L75.00 208.15 L75.50 208.05 L76.00 207.96 L76.50 207.86 L77.00 207.76 L77.50 207.65 L78.00 207.54 L78.50 207.43 L79.00 207.31 L79.50 207.19 L80.00 207.06 L80.50 206.92 L81.00 206.78 L81.50 206.62 L82.00 206.46 L82.50 206.29 L83.00 206.10 L83.50 205.91 L84.00 205.69 L84.50 205.46 L85.00 205.22 L85.50 204.95 L86.00 204.66 L86.50 204.35 L87.00 204.02 L87.50 203.66 L88.00 203.29 L88.50 202.88 L89.00 202.46 L89.50 202.00 L90.00 201.52 L90.50 201.01 L91.00 200.47 L91.50 199.90 L92.00 199.30 L92.50 198.66 L93.00 197.98 L93.50 197.28 L94.00 196.54 L94.50 195.79 L95.00 195.02 L95.50 194.24 L96.00 193.45 L96.50 192.66 L97.00 191.86 L97.50 191.06 L98.00 190.26 L98.50 189.47 L99.00 188.69 L99.50 187.91 L100.00 187.14 L100.50 186.39 L101.00 185.64 L101.50 184.90 L102.00 184.18 L102.50 183.46 L103.00 182.75 L103.50 182.05 L104.00 181.36 L104.50 180.68 L105.00 180.00 L105.50 179.34 L106.00 178.68 L106.50 178.03 L107.00 177.38 L107.50 176.75 L108.00 176.12 L108.50 175.50 L109.00 174.88 L109.50 174.28 L110.00 173.68 L110.50 173.08 L111.00 172.50 L111.50 171.92 L112.00 171.34 L112.50 170.78 L113.00 170.22 L113.50 169.66 L114.00 169.12 L114.50 168.58 L115.00 168.04 L115.50 167.52 L116.00 167.00 L116.50 166.48 L117.00 165.98 L117.50 165.48 L118.00 164.98 L118.50 164.49 L119.00 164.00 L119.50 163.52 L120.00 163.05 L120.50 162.58 L121.00 162.11 L121.50 161.65 L122.00 161.19 L122.50 160.73 L123.00 160.28 L123.50 159.82 L124.00 159.37 L124.50 158.93 L125.00 158.48 L125.50 158.04 L126.00 157.59 L126.50 157.15 L127.00 156.71 L127.50 156.27 L128.00 155.83 L128.50 155.39 L129.00 154.95 L129.50 154.51 L130.00 154.06 L130.50 153.62 L131.00 153.17 L131.50 152.72 L132.00 152.26 L132.50 151.81 L133.00 151.35 L133.50 150.88 L134.00 150.41 L134.50 149.94 L135.00 149.46 L135.50 148.97 L136.00 148.48 L136.50 147.99 L137.00 147.49 L137.50 146.98 L138.00 146.47 L138.50 145.95 L139.00 145.42 L139.50 144.88 L140.00 144.33 L140.50 143.78 L141.00 143.21 L141.50 142.64 L142.00 142.05 L142.50 141.44 L143.00 140.81 L143.50 140.16 L144.00 139.48 L144.50 138.78 L145.00 138.05 L145.50 137.30 L146.00 136.54 L146.50 135.76 L147.00 134.97 L147.50 134.17 L148.00 133.36 L148.50 132.55 L149.00 131.74 L149.50 130.92 L150.00 130.11 L150.50 129.30 L151.00 128.49 L151.50 127.69 L152.00 126.90 L152.50 126.13 L153.00 125.37 L153.50 124.62 L154.00 123.90 L154.50 123.19 L155.00 122.50 L155.50 121.83 L156.00 121.18 L156.50 120.54 L157.00 119.92 L157.50 119.32 L158.00 118.74 L158.50 118.17 L159.00 117.61 L159.50 117.07 L160.00 116.55 L160.50 116.03 L161.00 115.53 L161.50 115.05 L162.00 114.58 L162.50 114.12 L163.00 113.67 L163.50 113.23 L164.00 112.81 L164.50 112.39 L165.00 111.99 L165.50 111.60 L166.00 111.22 L166.50 110.85 L167.00 110.50 L167.50 110.15 L168.00 109.81 L168.50 109.48 L169.00 109.16 L169.50 108.85 L170.00 108.55 L170.50 108.25 L171.00 107.96 L171.50 107.68 L172.00 107.41 L172.50 107.14 L173.00 106.88 L173.50 106.62 L174.00 106.38 L174.50 106.13 L175.00 105.90 L175.50 105.66 L176.00 105.44 L176.50 105.22 L177.00 105.00 L177.50 104.79 L178.00 104.59 L178.50 104.39 L179.00 104.19 L179.50 104.00 L180.00 103.82 L180.50 103.63 L181.00 103.46 L181.50 103.29 L182.00 103.12 L182.50 102.96 L183.00 102.80 L183.50 102.64 L184.00 102.49 L184.50 102.34 L185.00 102.20 L185.50 102.05 L186.00 101.92 L186.50 101.78 L187.00 101.65 L187.50 101.51 L188.00 101.39 L188.50 101.26 L189.00 101.14 L189.50 101.01 L190.00 100.89 L190.50 100.78 L191.00 100.66 L191.50 100.55 L192.00 100.44 L192.50 100.33 L193.00 100.22 L193.50 100.11 L194.00 100.01 L194.50 99.90 L195.00 99.80 L195.50 99.70 L196.00 99.60 L196.50 99.50 L197.00 99.41 L197.50 99.31 L198.00 99.22 L198.50 99.13 L199.00 99.04 L199.50 98.95 L200.00 98.86 L200.50 98.77 L201.00 98.69 L201.50 98.60 L202.00 98.52 L202.50 98.44 L203.00 98.36 L203.50 98.28 L204.00 98.20 L204.50 98.12 L205.00 98.05 L205.50 97.97 L206.00 97.90 L206.50 97.83 L207.00 97.75 L207.50 97.68 L208.00 97.61 L208.50 97.54 L209.00 97.47 L209.50 97.40 L210.00 97.34 L210.50 97.27 L211.00 97.20 L211.50 97.13 L212.00 97.07 L212.50 97.00 L213.00 96.94 L213.50 96.87 L214.00 96.81 L214.50 96.75 L215.00 96.68 L215.50 96.62 L216.00 96.56 L216.50 96.50 L217.00 96.44 L217.50 96.38 L218.00 96.31 L218.50 96.25 L219.00 96.19 L219.50 96.14 L220.00 96.08 L220.50 96.02 L221.00 95.96 L221.50 95.90 L222.00 95.84 L222.50 95.79 L223.00 95.73 L223.50 95.67 L224.00 95.61 L224.50 95.56 L225.00 95.50 L225.50 95.45 L226.00 95.39 L226.50 95.34 L227.00 95.28 L227.50 95.23 L228.00 95.17 L228.50 95.12 L229.00 95.07 L229.50 95.01 L230.00 94.96 L230.50 94.91 L231.00 94.85 L231.50 94.80 L232.00 94.75 L232.50 94.70 L233.00 94.65 L233.50 94.60 L234.00 94.55 L234.50 94.50 L235.00 94.45 L235.50 94.40 L236.00 94.35 L236.50 94.30 L237.00 94.25 L237.50 94.20 L238.00 94.15 L238.50 94.11 L239.00 94.06 L239.50 94.01 L240.00 93.96 L240.50 93.92 L241.00 93.87 L241.50 93.82 L242.00 93.78 L242.50 93.73 L243.00 93.69 L243.50 93.64 L244.00 93.60 L244.50 93.55 L245.00 93.51 L245.50 93.46 L246.00 93.42 L246.50 93.38 L247.00 93.33 L247.50 93.29 L248.00 93.25 L248.50 93.21 L249.00 93.16 L249.50 93.12 L250.00 93.08 L250.50 93.04 L251.00 93.00 L251.50 92.96 L252.00 92.91 L252.50 92.87 L253.00 92.83 L253.50 92.79 L254.00 92.75 L254.50 92.71 L255.00 92.67 L255.50 92.64 L256.00 92.60 L256.50 92.56 L257.00 92.52 L257.50 92.48 L258.00 92.44 L258.50 92.40 L259.00 92.37 L259.50 92.33 L260.00 92.29 L260.50 92.25 L261.00 92.22 L261.50 92.18 L262.00 92.14 L262.50 92.11 L263.00 92.07 L263.50 92.03 L264.00 92.00 L264.50 91.96 L265.00 91.93 L265.50 91.89 L266.00 91.85 L266.50 91.82 L267.00 91.78 L267.50 91.75 L268.00 91.71 L268.50 91.68 L269.00 91.65 L269.50 91.61 L270.00 91.58 L270.50 91.54 L271.00 91.51 L271.50 91.48 L272.00 91.44 L272.50 91.41 L273.00 91.38 L273.50 91.34 L274.00 91.31 L274.50 91.28 L275.00 91.25 L275.50 91.21 L276.00 91.18 L276.50 91.15 L277.00 91.12 L277.50 91.08 L278.00 91.05 L278.50 91.02 L279.00 90.99 L279.50 90.96 L280.00 90.93 L280.50 90.90 L281.00 90.87 L281.50 90.83 L282.00 90.80 L282.50 90.77 L283.00 90.74 L283.50 90.71 L284.00 90.68 L284.50 90.65 L285.00 90.62 L285.50 90.59 L286.00 90.56 L286.50 90.53 L287.00 90.51 L287.50 90.48 L288.00 90.45 L288.50 90.42 L289.00 90.39 L289.50 90.36 L290.00 90.33 L290.50 90.30 L291.00 90.27 L291.50 90.25 L292.00 90.22 L292.50 90.19 L293.00 90.16 L293.50 90.13 L294.00 90.11 L294.50 90.08 L295.00 90.05 L295.50 90.02 L296.00 90.00 L296.50 89.97 L297.00 89.94 L297.50 89.92 L298.00 89.89 L298.50 89.86 L299.00 89.84 L299.50 89.81 L300.00 89.78 L300.50 89.76 L301.00 89.73 L301.50 89.70 L302.00 89.68 L302.50 89.65 L303.00 89.63 L303.50 89.60 L304.00 89.57 L304.50 89.55 L305.00 89.52 L305.50 89.50 L306.00 89.47 L306.50 89.45 L307.00 89.42 L307.50 89.40 L308.00 89.37 L308.50 89.35 L309.00 89.32 L309.50 89.30 L310.00 89.27 L310.50 89.25 L311.00 89.23 L311.50 89.20 L312.00 89.18 L312.50 89.15 L313.00 89.13 L313.50 89.11 L314.00 89.08 L314.50 89.06 L315.00 89.03 L315.50 89.01 L316.00 88.99 L316.50 88.96 L317.00 88.94 L317.50 88.92 L318.00 88.89 L318.50 88.87 L319.00 88.85 L319.50 88.83 L320.00 88.80 L320.50 88.78 L321.00 88.76 L321.50 88.74 L322.00 88.71 L322.50 88.69 L323.00 88.67 L323.50 88.65 L324.00 88.62 L324.50 88.60 L325.00 88.58 L325.50 88.56 L326.00 88.54 L326.50 88.52 L327.00 88.49 L327.50 88.47 L328.00 88.45 L328.50 88.43 L329.00 88.41 L329.50 88.39 L330.00 88.37 L330.50 88.34 L331.00 88.32 L331.50 88.30 L332.00 88.28 L332.50 88.26 L333.00 88.24 L333.50 88.22 L334.00 88.20 L334.50 88.18 L335.00 88.16 L335.50 88.14 L336.00 88.12 L336.50 88.10 L337.00 88.08 L337.50 88.06 L338.00 88.04 L338.50 88.02 L339.00 88.00 L339.50 87.98 L340.00 87.96 L340.50 87.94 L341.00 87.92 L341.50 87.90 L342.00 87.88 L342.50 87.86 L343.00 87.84 L343.50 87.82 L344.00 87.80 L344.50 87.78 L345.00 87.76 L345.50 87.74 L346.00 87.73 L346.50 87.71 L347.00 87.69 L347.50 87.67 L348.00 87.65 L348.50 87.63 L349.00 87.61 L349.50 87.59 L350.00 87.57 L350.50 87.56 L351.00 87.54 L351.50 87.52 L352.00 87.50" fill="none" stroke="#d6656f" stroke-width="1.25" stroke-linejoin="round"/><path d="M41.30 226.00 L41.40 220.96 L41.50 218.75 L41.60 217.76 L41.70 217.29 L41.80 217.04 L41.90 216.89 L42.00 216.77 L42.10 216.65 L42.20 216.54 L42.30 216.41 L42.40 216.28 L42.50 216.15 L42.60 216.02 L42.70 215.89 L42.80 215.77 L42.90 215.64 L43.00 215.52 L43.10 215.40 L43.20 215.28 L43.30 215.17 L43.40 215.06 L43.50 214.95 L43.60 214.84 L43.70 214.74 L43.80 214.63 L43.90 214.54 L44.00 214.44 L44.10 214.35 L44.20 214.26 L44.30 214.17 L44.40 214.09 L44.50 214.00 L44.60 213.93 L44.70 213.85 L44.80 213.77 L44.90 213.70 L45.00 213.63 L45.10 213.55 L45.20 213.48 L45.30 213.41 L45.40 213.35 L45.50 213.28 L45.60 213.21 L45.70 213.15 L45.80 213.09 L45.90 213.02 L46.00 212.96 L46.00 212.96 L46.50 212.66 L47.00 212.38 L47.50 212.11 L48.00 211.86 L48.50 211.62 L49.00 211.40 L49.50 211.18 L50.00 210.98 L50.50 210.78 L51.00 210.60 L51.50 210.42 L52.00 210.26 L52.50 210.10 L53.00 209.94 L53.50 209.80 L54.00 209.66 L54.50 209.53 L55.00 209.41 L55.50 209.29 L56.00 209.17 L56.50 209.06 L57.00 208.95 L57.50 208.85 L58.00 208.74 L58.50 208.64 L59.00 208.54 L59.50 208.45 L60.00 208.35 L60.50 208.26 L61.00 208.17 L61.50 208.07 L62.00 207.98 L62.50 207.89 L63.00 207.80 L63.50 207.71 L64.00 207.62 L64.50 207.53 L65.00 207.44 L65.50 207.35 L66.00 207.27 L66.50 207.18 L67.00 207.09 L67.50 207.00 L68.00 206.91 L68.50 206.83 L69.00 206.74 L69.50 206.65 L70.00 206.56 L70.50 206.47 L71.00 206.37 L71.50 206.28 L72.00 206.18 L72.50 206.09 L73.00 205.99 L73.50 205.89 L74.00 205.79 L74.50 205.68 L75.00 205.57 L75.50 205.46 L76.00 205.34 L76.50 205.22 L77.00 205.09 L77.50 204.95 L78.00 204.81 L78.50 204.66 L79.00 204.49 L79.50 204.32 L80.00 204.13 L80.50 203.93 L81.00 203.72 L81.50 203.50 L82.00 203.26 L82.50 203.00 L83.00 202.72 L83.50 202.43 L84.00 202.10 L84.50 201.72 L85.00 201.30 L85.50 200.83 L86.00 200.34 L86.50 199.82 L87.00 199.26 L87.50 198.66 L88.00 198.01 L88.50 197.33 L89.00 196.61 L89.50 195.85 L90.00 195.06 L90.50 194.25 L91.00 193.42 L91.50 192.58 L92.00 191.73 L92.50 190.89 L93.00 190.05 L93.50 189.21 L94.00 188.39 L94.50 187.58 L95.00 186.79 L95.50 186.01 L96.00 185.24 L96.50 184.49 L97.00 183.74 L97.50 183.02 L98.00 182.30 L98.50 181.60 L99.00 180.90 L99.50 180.22 L100.00 179.55 L100.50 178.88 L101.00 178.23 L101.50 177.58 L102.00 176.95 L102.50 176.33 L103.00 175.71 L103.50 175.11 L104.00 174.51 L104.50 173.93 L105.00 173.35 L105.50 172.79 L106.00 172.23 L106.50 171.68 L107.00 171.13 L107.50 170.60 L108.00 170.07 L108.50 169.54 L109.00 169.02 L109.50 168.51 L110.00 168.00 L110.50 167.50 L111.00 167.00 L111.50 166.50 L112.00 166.01 L112.50 165.53 L113.00 165.05 L113.50 164.58 L114.00 164.11 L114.50 163.64 L115.00 163.18 L115.50 162.72 L116.00 162.26 L116.50 161.80 L117.00 161.35 L117.50 160.90 L118.00 160.45 L118.50 160.00 L119.00 159.55 L119.50 159.10 L120.00 158.65 L120.50 158.20 L121.00 157.74 L121.50 157.28 L122.00 156.82 L122.50 156.36 L123.00 155.89 L123.50 155.42 L124.00 154.95 L124.50 154.47 L125.00 153.98 L125.50 153.49 L126.00 152.99 L126.50 152.49 L127.00 151.97 L127.50 151.45 L128.00 150.92 L128.50 150.38 L129.00 149.83 L129.50 149.28 L130.00 148.70 L130.50 148.12 L131.00 147.52 L131.50 146.91 L132.00 146.28 L132.50 145.63 L133.00 144.96 L133.50 144.27 L134.00 143.56 L134.50 142.83 L135.00 142.07 L135.50 141.30 L136.00 140.50 L136.50 139.69 L137.00 138.85 L137.50 138.01 L138.00 137.15 L138.50 136.28 L139.00 135.40 L139.50 134.52 L140.00 133.63 L140.50 132.76 L141.00 131.89 L141.50 131.02 L142.00 130.18 L142.50 129.35 L143.00 128.55 L143.50 127.76 L144.00 126.99 L144.50 126.24 L145.00 125.51 L145.50 124.79 L146.00 124.10 L146.50 123.42 L147.00 122.75 L147.50 122.10 L148.00 121.46 L148.50 120.83 L149.00 120.22 L149.50 119.61 L150.00 119.03 L150.50 118.45 L151.00 117.89 L151.50 117.33 L152.00 116.80 L152.50 116.27 L153.00 115.75 L153.50 115.25 L154.00 114.75 L154.50 114.27 L155.00 113.80 L155.50 113.34 L156.00 112.90 L156.50 112.46 L157.00 112.04 L157.50 111.62 L158.00 111.22 L158.50 110.83 L159.00 110.45 L159.50 110.08 L160.00 109.73 L160.50 109.38 L161.00 109.05 L161.50 108.73 L162.00 108.42 L162.50 108.11 L163.00 107.82 L163.50 107.53 L164.00 107.25 L164.50 106.98 L165.00 106.71 L165.50 106.45 L166.00 106.19 L166.50 105.94 L167.00 105.69 L167.50 105.45 L168.00 105.21 L168.50 104.98 L169.00 104.75 L169.50 104.52 L170.00 104.30 L170.50 104.09 L171.00 103.87 L171.50 103.67 L172.00 103.46 L172.50 103.26 L173.00 103.07 L173.50 102.88 L174.00 102.69 L174.50 102.51 L175.00 102.33 L175.50 102.15 L176.00 101.98 L176.50 101.81 L177.00 101.65 L177.50 101.49 L178.00 101.33 L178.50 101.17 L179.00 101.02 L179.50 100.87 L180.00 100.73 L180.50 100.58 L181.00 100.44 L181.50 100.31 L182.00 100.17 L182.50 100.04 L183.00 99.91 L183.50 99.78 L184.00 99.65 L184.50 99.53 L185.00 99.41 L185.50 99.28 L186.00 99.17 L186.50 99.05 L187.00 98.93 L187.50 98.82 L188.00 98.71 L188.50 98.60 L189.00 98.49 L189.50 98.39 L190.00 98.28 L190.50 98.18 L191.00 98.08 L191.50 97.98 L192.00 97.88 L192.50 97.78 L193.00 97.69 L193.50 97.59 L194.00 97.50 L194.50 97.41 L195.00 97.32 L195.50 97.23 L196.00 97.15 L196.50 97.06 L197.00 96.98 L197.50 96.90 L198.00 96.81 L198.50 96.73 L199.00 96.65 L199.50 96.58 L200.00 96.50 L200.50 96.42 L201.00 96.35 L201.50 96.27 L202.00 96.20 L202.50 96.13 L203.00 96.05 L203.50 95.98 L204.00 95.91 L204.50 95.84 L205.00 95.77 L205.50 95.70 L206.00 95.63 L206.50 95.57 L207.00 95.50 L207.50 95.43 L208.00 95.37 L208.50 95.30 L209.00 95.24 L209.50 95.17 L210.00 95.11 L210.50 95.05 L211.00 94.98 L211.50 94.92 L212.00 94.86 L212.50 94.80 L213.00 94.74 L213.50 94.68 L214.00 94.62 L214.50 94.56 L215.00 94.50 L215.50 94.44 L216.00 94.39 L216.50 94.33 L217.00 94.27 L217.50 94.22 L218.00 94.16 L218.50 94.11 L219.00 94.05 L219.50 94.00 L220.00 93.95 L220.50 93.89 L221.00 93.84 L221.50 93.79 L222.00 93.74 L222.50 93.68 L223.00 93.63 L223.50 93.58 L224.00 93.53 L224.50 93.48 L225.00 93.43 L225.50 93.38 L226.00 93.34 L226.50 93.29 L227.00 93.24 L227.50 93.19 L228.00 93.14 L228.50 93.10 L229.00 93.05 L229.50 93.00 L230.00 92.96 L230.50 92.91 L231.00 92.87 L231.50 92.82 L232.00 92.78 L232.50 92.73 L233.00 92.69 L233.50 92.65 L234.00 92.60 L234.50 92.56 L235.00 92.52 L235.50 92.47 L236.00 92.43 L236.50 92.39 L237.00 92.35 L237.50 92.31 L238.00 92.26 L238.50 92.22 L239.00 92.18 L239.50 92.14 L240.00 92.10 L240.50 92.06 L241.00 92.02 L241.50 91.98 L242.00 91.94 L242.50 91.90 L243.00 91.86 L243.50 91.82 L244.00 91.79 L244.50 91.75 L245.00 91.71 L245.50 91.67 L246.00 91.63 L246.50 91.60 L247.00 91.56 L247.50 91.52 L248.00 91.49 L248.50 91.45 L249.00 91.41 L249.50 91.38 L250.00 91.34 L250.50 91.31 L251.00 91.27 L251.50 91.24 L252.00 91.20 L252.50 91.17 L253.00 91.13 L253.50 91.10 L254.00 91.06 L254.50 91.03 L255.00 90.99 L255.50 90.96 L256.00 90.93 L256.50 90.89 L257.00 90.86 L257.50 90.83 L258.00 90.79 L258.50 90.76 L259.00 90.73 L259.50 90.70 L260.00 90.66 L260.50 90.63 L261.00 90.60 L261.50 90.57 L262.00 90.54 L262.50 90.51 L263.00 90.48 L263.50 90.44 L264.00 90.41 L264.50 90.38 L265.00 90.35 L265.50 90.32 L266.00 90.29 L266.50 90.26 L267.00 90.23 L267.50 90.20 L268.00 90.17 L268.50 90.14 L269.00 90.11 L269.50 90.08 L270.00 90.05 L270.50 90.02 L271.00 90.00 L271.50 89.97 L272.00 89.94 L272.50 89.91 L273.00 89.88 L273.50 89.85 L274.00 89.82 L274.50 89.80 L275.00 89.77 L275.50 89.74 L276.00 89.71 L276.50 89.69 L277.00 89.66 L277.50 89.63 L278.00 89.60 L278.50 89.58 L279.00 89.55 L279.50 89.52 L280.00 89.50 L280.50 89.47 L281.00 89.44 L281.50 89.42 L282.00 89.39 L282.50 89.37 L283.00 89.34 L283.50 89.31 L284.00 89.29 L284.50 89.26 L285.00 89.24 L285.50 89.21 L286.00 89.19 L286.50 89.16 L287.00 89.14 L287.50 89.11 L288.00 89.09 L288.50 89.06 L289.00 89.04 L289.50 89.01 L290.00 88.99 L290.50 88.97 L291.00 88.94 L291.50 88.92 L292.00 88.89 L292.50 88.87 L293.00 88.85 L293.50 88.82 L294.00 88.80 L294.50 88.77 L295.00 88.75 L295.50 88.73 L296.00 88.70 L296.50 88.68 L297.00 88.66 L297.50 88.64 L298.00 88.61 L298.50 88.59 L299.00 88.57 L299.50 88.55 L300.00 88.52 L300.50 88.50 L301.00 88.48 L301.50 88.46 L302.00 88.43 L302.50 88.41 L303.00 88.39 L303.50 88.37 L304.00 88.35 L304.50 88.32 L305.00 88.30 L305.50 88.28 L306.00 88.26 L306.50 88.24 L307.00 88.22 L307.50 88.20 L308.00 88.17 L308.50 88.15 L309.00 88.13 L309.50 88.11 L310.00 88.09 L310.50 88.07 L311.00 88.05 L311.50 88.03 L312.00 88.01 L312.50 87.99 L313.00 87.97 L313.50 87.95 L314.00 87.93 L314.50 87.91 L315.00 87.89 L315.50 87.87 L316.00 87.85 L316.50 87.83 L317.00 87.81 L317.50 87.79 L318.00 87.77 L318.50 87.75 L319.00 87.73 L319.50 87.71 L320.00 87.69 L320.50 87.67 L321.00 87.65 L321.50 87.63 L322.00 87.61 L322.50 87.59 L323.00 87.58 L323.50 87.56 L324.00 87.54 L324.50 87.52 L325.00 87.50 L325.50 87.48 L326.00 87.46 L326.50 87.45 L327.00 87.43 L327.50 87.41 L328.00 87.39 L328.50 87.37 L329.00 87.35 L329.50 87.34 L330.00 87.32 L330.50 87.30 L331.00 87.28 L331.50 87.26 L332.00 87.25 L332.50 87.23 L333.00 87.21 L333.50 87.19 L334.00 87.18 L334.50 87.16 L335.00 87.14 L335.50 87.12 L336.00 87.11 L336.50 87.09 L337.00 87.07 L337.50 87.06 L338.00 87.04 L338.50 87.02 L339.00 87.00 L339.50 86.99 L340.00 86.97 L340.50 86.95 L341.00 86.94 L341.50 86.92 L342.00 86.90 L342.50 86.89 L343.00 86.87 L343.50 86.85 L344.00 86.84 L344.50 86.82 L345.00 86.81 L345.50 86.79 L346.00 86.77 L346.50 86.76 L347.00 86.74 L347.50 86.72 L348.00 86.71 L348.50 86.69 L349.00 86.68 L349.50 86.66 L350.00 86.64 L350.50 86.63 L351.00 86.61 L351.50 86.60 L352.00 86.58" fill="none" stroke="#4584c2" stroke-width="1.25" stroke-linejoin="round"/><path d="M41.30 226.00 L41.40 222.60 L41.50 221.10 L41.60 220.42 L41.70 220.08 L41.80 219.88 L41.90 219.73 L42.00 219.58 L42.10 219.43 L42.20 219.27 L42.30 219.08 L42.40 218.88 L42.50 218.67 L42.60 218.46 L42.70 218.26 L42.80 218.06 L42.90 217.86 L43.00 217.67 L43.10 217.49 L43.20 217.31 L43.30 217.14 L43.40 216.97 L43.50 216.81 L43.60 216.65 L43.70 216.50 L43.80 216.35 L43.90 216.20 L44.00 216.06 L44.10 215.93 L44.20 215.80 L44.30 215.67 L44.40 215.54 L44.50 215.42 L44.60 215.30 L44.70 215.19 L44.80 215.08 L44.90 214.97 L45.00 214.86 L45.10 214.75 L45.20 214.65 L45.30 214.55 L45.40 214.46 L45.50 214.36 L45.60 214.27 L45.70 214.18 L45.80 214.09 L45.90 214.00 L46.00 213.92 L46.00 213.92 L46.50 213.52 L47.00 213.16 L47.50 212.81 L48.00 212.48 L48.50 212.16 L49.00 211.86 L49.50 211.57 L50.00 211.29 L50.50 211.02 L51.00 210.76 L51.50 210.52 L52.00 210.29 L52.50 210.06 L53.00 209.85 L53.50 209.65 L54.00 209.46 L54.50 209.27 L55.00 209.09 L55.50 208.93 L56.00 208.76 L56.50 208.61 L57.00 208.46 L57.50 208.32 L58.00 208.19 L58.50 208.06 L59.00 207.94 L59.50 207.82 L60.00 207.71 L60.50 207.59 L61.00 207.49 L61.50 207.38 L62.00 207.28 L62.50 207.18 L63.00 207.08 L63.50 206.98 L64.00 206.88 L64.50 206.78 L65.00 206.69 L65.50 206.59 L66.00 206.49 L66.50 206.40 L67.00 206.30 L67.50 206.20 L68.00 206.11 L68.50 206.01 L69.00 205.91 L69.50 205.81 L70.00 205.71 L70.50 205.61 L71.00 205.50 L71.50 205.39 L72.00 205.28 L72.50 205.15 L73.00 205.02 L73.50 204.88 L74.00 204.72 L74.50 204.54 L75.00 204.35 L75.50 204.12 L76.00 203.85 L76.50 203.53 L77.00 203.14 L77.50 202.67 L78.00 202.12 L78.50 201.46 L79.00 200.72 L79.50 199.92 L80.00 199.10 L80.50 198.24 L81.00 197.36 L81.50 196.46 L82.00 195.56 L82.50 194.64 L83.00 193.74 L83.50 192.83 L84.00 191.93 L84.50 191.05 L85.00 190.19 L85.50 189.35 L86.00 188.54 L86.50 187.74 L87.00 186.97 L87.50 186.23 L88.00 185.50 L88.50 184.79 L89.00 184.09 L89.50 183.41 L90.00 182.74 L90.50 182.09 L91.00 181.45 L91.50 180.82 L92.00 180.20 L92.50 179.60 L93.00 179.01 L93.50 178.43 L94.00 177.85 L94.50 177.29 L95.00 176.74 L95.50 176.19 L96.00 175.65 L96.50 175.12 L97.00 174.60 L97.50 174.08 L98.00 173.57 L98.50 173.07 L99.00 172.57 L99.50 172.08 L100.00 171.59 L100.50 171.11 L101.00 170.64 L101.50 170.17 L102.00 169.71 L102.50 169.25 L103.00 168.79 L103.50 168.34 L104.00 167.89 L104.50 167.44 L105.00 166.99 L105.50 166.55 L106.00 166.11 L106.50 165.66 L107.00 165.22 L107.50 164.77 L108.00 164.32 L108.50 163.86 L109.00 163.40 L109.50 162.93 L110.00 162.45 L110.50 161.96 L111.00 161.46 L111.50 160.95 L112.00 160.42 L112.50 159.88 L113.00 159.33 L113.50 158.77 L114.00 158.20 L114.50 157.60 L115.00 157.00 L115.50 156.37 L116.00 155.73 L116.50 155.06 L117.00 154.38 L117.50 153.67 L118.00 152.95 L118.50 152.20 L119.00 151.44 L119.50 150.67 L120.00 149.87 L120.50 149.07 L121.00 148.25 L121.50 147.43 L122.00 146.61 L122.50 145.78 L123.00 144.95 L123.50 144.13 L124.00 143.32 L124.50 142.50 L125.00 141.70 L125.50 140.92 L126.00 140.15 L126.50 139.40 L127.00 138.66 L127.50 137.94 L128.00 137.23 L128.50 136.54 L129.00 135.87 L129.50 135.21 L130.00 134.57 L130.50 133.95 L131.00 133.35 L131.50 132.75 L132.00 132.18 L132.50 131.62 L133.00 131.07 L133.50 130.54 L134.00 130.02 L134.50 129.51 L135.00 129.02 L135.50 128.53 L136.00 128.06 L136.50 127.60 L137.00 127.15 L137.50 126.70 L138.00 126.27 L138.50 125.85 L139.00 125.43 L139.50 125.02 L140.00 124.62 L140.50 124.24 L141.00 123.86 L141.50 123.48 L142.00 123.12 L142.50 122.77 L143.00 122.42 L143.50 122.08 L144.00 121.74 L144.50 121.42 L145.00 121.10 L145.50 120.79 L146.00 120.48 L146.50 120.18 L147.00 119.88 L147.50 119.59 L148.00 119.31 L148.50 119.03 L149.00 118.76 L149.50 118.49 L150.00 118.23 L150.50 117.97 L151.00 117.72 L151.50 117.47 L152.00 117.23 L152.50 116.99 L153.00 116.76 L153.50 116.53 L154.00 116.31 L154.50 116.09 L155.00 115.87 L155.50 115.66 L156.00 115.46 L156.50 115.26 L157.00 115.07 L157.50 114.88 L158.00 114.70 L158.50 114.52 L159.00 114.34 L159.50 114.17 L160.00 114.00 L160.50 113.83 L161.00 113.67 L161.50 113.51 L162.00 113.35 L162.50 113.20 L163.00 113.05 L163.50 112.90 L164.00 112.75 L164.50 112.61 L165.00 112.47 L165.50 112.33 L166.00 112.20 L166.50 112.06 L167.00 111.93 L167.50 111.80 L168.00 111.68 L168.50 111.55 L169.00 111.43 L169.50 111.31 L170.00 111.19 L170.50 111.07 L171.00 110.96 L171.50 110.84 L172.00 110.73 L172.50 110.62 L173.00 110.51 L173.50 110.40 L174.00 110.29 L174.50 110.18 L175.00 110.08 L175.50 109.97 L176.00 109.87 L176.50 109.77 L177.00 109.66 L177.50 109.56 L178.00 109.47 L178.50 109.37 L179.00 109.27 L179.50 109.18 L180.00 109.08 L180.50 108.99 L181.00 108.90 L181.50 108.81 L182.00 108.71 L182.50 108.62 L183.00 108.54 L183.50 108.45 L184.00 108.36 L184.50 108.27 L185.00 108.19 L185.50 108.10 L186.00 108.02 L186.50 107.93 L187.00 107.85 L187.50 107.76 L188.00 107.68 L188.50 107.60 L189.00 107.52 L189.50 107.44 L190.00 107.36 L190.50 107.28 L191.00 107.20 L191.50 107.12 L192.00 107.04 L192.50 106.96 L193.00 106.89 L193.50 106.81 L194.00 106.73 L194.50 106.66 L195.00 106.58 L195.50 106.51 L196.00 106.44 L196.50 106.36 L197.00 106.29 L197.50 106.22 L198.00 106.15 L198.50 106.08 L199.00 106.01 L199.50 105.94 L200.00 105.87 L200.50 105.80 L201.00 105.73 L201.50 105.66 L202.00 105.60 L202.50 105.53 L203.00 105.46 L203.50 105.40 L204.00 105.33 L204.50 105.27 L205.00 105.20 L205.50 105.14 L206.00 105.07 L206.50 105.01 L207.00 104.95 L207.50 104.89 L208.00 104.83 L208.50 104.77 L209.00 104.71 L209.50 104.65 L210.00 104.59 L210.50 104.53 L211.00 104.47 L211.50 104.41 L212.00 104.35 L212.50 104.30 L213.00 104.24 L213.50 104.18 L214.00 104.13 L214.50 104.07 L215.00 104.02 L215.50 103.97 L216.00 103.91 L216.50 103.86 L217.00 103.81 L217.50 103.75 L218.00 103.70 L218.50 103.65 L219.00 103.60 L219.50 103.55 L220.00 103.50 L220.50 103.45 L221.00 103.40 L221.50 103.35 L222.00 103.30 L222.50 103.25 L223.00 103.21 L223.50 103.16 L224.00 103.11 L224.50 103.07 L225.00 103.02 L225.50 102.97 L226.00 102.93 L226.50 102.88 L227.00 102.84 L227.50 102.80 L228.00 102.75 L228.50 102.71 L229.00 102.66 L229.50 102.62 L230.00 102.58 L230.50 102.54 L231.00 102.49 L231.50 102.45 L232.00 102.41 L232.50 102.37 L233.00 102.33 L233.50 102.29 L234.00 102.25 L234.50 102.20 L235.00 102.16 L235.50 102.12 L236.00 102.09 L236.50 102.05 L237.00 102.01 L237.50 101.97 L238.00 101.93 L238.50 101.89 L239.00 101.85 L239.50 101.82 L240.00 101.78 L240.50 101.74 L241.00 101.70 L241.50 101.67 L242.00 101.63 L242.50 101.59 L243.00 101.56 L243.50 101.52 L244.00 101.48 L244.50 101.45 L245.00 101.41 L245.50 101.38 L246.00 101.34 L246.50 101.31 L247.00 101.27 L247.50 101.24 L248.00 101.20 L248.50 101.17 L249.00 101.14 L249.50 101.10 L250.00 101.07 L250.50 101.04 L251.00 101.00 L251.50 100.97 L252.00 100.94 L252.50 100.90 L253.00 100.87 L253.50 100.84 L254.00 100.81 L254.50 100.78 L255.00 100.74 L255.50 100.71 L256.00 100.68 L256.50 100.65 L257.00 100.62 L257.50 100.59 L258.00 100.56 L258.50 100.53 L259.00 100.50 L259.50 100.47 L260.00 100.44 L260.50 100.41 L261.00 100.38 L261.50 100.35 L262.00 100.32 L262.50 100.29 L263.00 100.26 L263.50 100.23 L264.00 100.20 L264.50 100.17 L265.00 100.15 L265.50 100.12 L266.00 100.09 L266.50 100.06 L267.00 100.03 L267.50 100.01 L268.00 99.98 L268.50 99.95 L269.00 99.92 L269.50 99.90 L270.00 99.87 L270.50 99.84 L271.00 99.82 L271.50 99.79 L272.00 99.76 L272.50 99.74 L273.00 99.71 L273.50 99.69 L274.00 99.66 L274.50 99.63 L275.00 99.61 L275.50 99.58 L276.00 99.56 L276.50 99.53 L277.00 99.51 L277.50 99.48 L278.00 99.46 L278.50 99.43 L279.00 99.41 L279.50 99.39 L280.00 99.36 L280.50 99.34 L281.00 99.31 L281.50 99.29 L282.00 99.27 L282.50 99.24 L283.00 99.22 L283.50 99.20 L284.00 99.17 L284.50 99.15 L285.00 99.13 L285.50 99.10 L286.00 99.08 L286.50 99.06 L287.00 99.04 L287.50 99.01 L288.00 98.99 L288.50 98.97 L289.00 98.95 L289.50 98.92 L290.00 98.90 L290.50 98.88 L291.00 98.86 L291.50 98.84 L292.00 98.82 L292.50 98.80 L293.00 98.77 L293.50 98.75 L294.00 98.73 L294.50 98.71 L295.00 98.69 L295.50 98.67 L296.00 98.65 L296.50 98.63 L297.00 98.61 L297.50 98.59 L298.00 98.57 L298.50 98.55 L299.00 98.53 L299.50 98.51 L300.00 98.49 L300.50 98.47 L301.00 98.45 L301.50 98.43 L302.00 98.41 L302.50 98.39 L303.00 98.37 L303.50 98.35 L304.00 98.33 L304.50 98.31 L305.00 98.29 L305.50 98.28 L306.00 98.26 L306.50 98.24 L307.00 98.22 L307.50 98.20 L308.00 98.18 L308.50 98.16 L309.00 98.15 L309.50 98.13 L310.00 98.11 L310.50 98.09 L311.00 98.07 L311.50 98.05 L312.00 98.04 L312.50 98.02 L313.00 98.00 L313.50 97.98 L314.00 97.97 L314.50 97.95 L315.00 97.93 L315.50 97.91 L316.00 97.90 L316.50 97.88 L317.00 97.86 L317.50 97.85 L318.00 97.83 L318.50 97.81 L319.00 97.80 L319.50 97.78 L320.00 97.76 L320.50 97.75 L321.00 97.73 L321.50 97.71 L322.00 97.70 L322.50 97.68 L323.00 97.66 L323.50 97.65 L324.00 97.63 L324.50 97.62 L325.00 97.60 L325.50 97.58 L326.00 97.57 L326.50 97.55 L327.00 97.54 L327.50 97.52 L328.00 97.51 L328.50 97.49 L329.00 97.47 L329.50 97.46 L330.00 97.44 L330.50 97.43 L331.00 97.41 L331.50 97.40 L332.00 97.38 L332.50 97.37 L333.00 97.35 L333.50 97.34 L334.00 97.32 L334.50 97.31 L335.00 97.29 L335.50 97.28 L336.00 97.27 L336.50 97.25 L337.00 97.24 L337.50 97.22 L338.00 97.21 L338.50 97.19 L339.00 97.18 L339.50 97.17 L340.00 97.15 L340.50 97.14 L341.00 97.12 L341.50 97.11 L342.00 97.09 L342.50 97.08 L343.00 97.07 L343.50 97.05 L344.00 97.04 L344.50 97.03 L345.00 97.01 L345.50 97.00 L346.00 96.98 L346.50 96.97 L347.00 96.96 L347.50 96.94 L348.00 96.93 L348.50 96.92 L349.00 96.90 L349.50 96.89 L350.00 96.88 L350.50 96.86 L351.00 96.85 L351.50 96.84 L352.00 96.82" fill="none" stroke="#a6c66e" stroke-width="1.25" stroke-linejoin="round"/></g>
<rect x="223" y="112" width="124" height="91" fill="#fff"/>
<line x1="237" y1="124" x2="237" y2="190.5" stroke="#d0d0d0" stroke-width="0.7"/>
<line x1="330.5" y1="124" x2="330.5" y2="190.5" stroke="#d0d0d0" stroke-width="0.7"/>
<line x1="237" y1="190.5" x2="330.5" y2="190.5" stroke="#d0d0d0" stroke-width="0.7"/>
<text x="234.2" y="192.00" font-size="3.2" text-anchor="end" font-weight="bold" fill="#7c7c7c">0</text>
<text x="234.2" y="180.92" font-size="3.2" text-anchor="end" font-weight="bold" fill="#7c7c7c">0.5</text>
<text x="234.2" y="169.84" font-size="3.2" text-anchor="end" font-weight="bold" fill="#7c7c7c">1</text>
<text x="234.2" y="158.76" font-size="3.2" text-anchor="end" font-weight="bold" fill="#7c7c7c">1.5</text>
<text x="234.2" y="147.68" font-size="3.2" text-anchor="end" font-weight="bold" fill="#7c7c7c">2</text>
<text x="234.2" y="136.60" font-size="3.2" text-anchor="end" font-weight="bold" fill="#7c7c7c">2.5</text>
<text x="234.2" y="125.52" font-size="3.2" text-anchor="end" font-weight="bold" fill="#7c7c7c">3</text>
<text x="333.2" y="191.60" font-size="3.2" font-weight="bold" fill="#7c7c7c">0</text>
<text x="333.2" y="178.30" font-size="3.2" font-weight="bold" fill="#7c7c7c">50</text>
<text x="333.2" y="165.00" font-size="3.2" font-weight="bold" fill="#7c7c7c">100</text>
<text x="333.2" y="151.70" font-size="3.2" font-weight="bold" fill="#7c7c7c">150</text>
<text x="333.2" y="138.40" font-size="3.2" font-weight="bold" fill="#7c7c7c">200</text>
<text x="333.2" y="125.10" font-size="3.2" font-weight="bold" fill="#7c7c7c">250</text>
<text x="237.00" y="195.8" font-size="3.2" text-anchor="middle" font-weight="bold" fill="#7c7c7c">0</text>
<text x="260.10" y="195.8" font-size="3.2" text-anchor="middle" font-weight="bold" fill="#7c7c7c">1</text>
<text x="283.20" y="195.8" font-size="3.2" text-anchor="middle" font-weight="bold" fill="#7c7c7c">2</text>
<text x="306.30" y="195.8" font-size="3.2" text-anchor="middle" font-weight="bold" fill="#7c7c7c">3</text>
<text x="329.40" y="195.8" font-size="3.2" text-anchor="middle" font-weight="bold" fill="#7c7c7c">4</text>
<text x="283.2" y="199.4" font-size="3.3" text-anchor="middle" font-weight="bold" fill="#7c7c7c" textLength="15.5" lengthAdjust="spacingAndGlyphs">Time (hours)</text>
<g transform="translate(227.8,176) rotate(-90)"><text x="0" y="0" font-size="3.2" font-weight="bold" fill="#7c7c7c" textLength="38" lengthAdjust="spacingAndGlyphs">Heat flow released (mW/g)</text></g>
<g transform="translate(341.6,135.5) rotate(90)"><text x="0" y="0" font-size="3.2" font-weight="bold" fill="#7c7c7c" textLength="34" lengthAdjust="spacingAndGlyphs">Cumulative heat flow released (J/g)</text></g>
<g clip-path="url(#ic)"><path d="M241.50 112.00 L242.00 120.25 L242.50 125.88 L243.00 129.59 L243.50 132.81 L244.00 136.71 L244.50 141.62 L245.00 146.44 L245.50 150.00 L246.00 152.33 L246.50 154.32 L247.00 156.03 L247.50 157.50 L248.00 158.81 L248.50 160.00 L249.00 161.13 L249.50 162.22 L250.00 163.25 L250.50 164.22 L251.00 165.13 L251.50 165.96 L252.00 166.72 L252.50 167.40 L253.00 168.00 L253.50 168.50 L254.00 168.94 L254.50 169.36 L255.00 169.76 L255.50 170.14 L256.00 170.50 L256.50 170.83 L257.00 171.15 L257.50 171.45 L258.00 171.73 L258.50 172.00 L259.00 172.25 L259.50 172.49 L260.00 172.71 L260.50 172.93 L261.00 173.13 L261.50 173.32 L262.00 173.50 L262.50 173.68 L263.00 173.85 L263.50 174.01 L264.00 174.17 L264.50 174.33 L265.00 174.48 L265.50 174.62 L266.00 174.76 L266.50 174.90 L267.00 175.03 L267.50 175.15 L268.00 175.27 L268.50 175.38 L269.00 175.49 L269.50 175.59 L270.00 175.69 L270.50 175.77 L271.00 175.86 L271.50 175.93 L272.00 176.00 L272.50 176.07 L273.00 176.13 L273.50 176.20 L274.00 176.26 L274.50 176.32 L275.00 176.38 L275.50 176.45 L276.00 176.51 L276.50 176.56 L277.00 176.62 L277.50 176.68 L278.00 176.73 L278.50 176.78 L279.00 176.83 L279.50 176.88 L280.00 176.92 L280.50 176.96 L281.00 177.00 L281.50 177.04 L282.00 177.07 L282.50 177.10 L283.00 177.12 L283.50 177.15 L284.00 177.17 L284.50 177.18 L285.00 177.19 L285.50 177.20 L286.00 177.20 L286.50 177.20 L287.00 177.20 L287.50 177.19 L288.00 177.19 L288.50 177.18 L289.00 177.17 L289.50 177.16 L290.00 177.15 L290.50 177.14 L291.00 177.12 L291.50 177.11 L292.00 177.09 L292.50 177.07 L293.00 177.05 L293.50 177.02 L294.00 177.00 L294.50 176.96 L295.00 176.87 L295.50 176.76 L296.00 176.61 L296.50 176.43 L297.00 176.23 L297.50 176.01 L298.00 175.76 L298.50 175.50 L299.00 175.17 L299.50 174.71 L300.00 174.14 L300.50 173.46 L301.00 172.66 L301.50 171.54 L302.00 170.00 L302.50 167.30 L303.00 163.57 L303.50 160.00 L304.00 156.95 L304.50 154.01 L305.00 151.19 L305.50 148.52 L306.00 146.00 L306.50 143.63 L307.00 141.36 L307.50 139.13 L308.00 136.90 L308.50 134.66 L309.00 132.50 L309.50 130.36 L310.00 128.19 L310.50 125.93 L311.00 123.50 L311.50 120.83 L312.00 118.00" fill="none" stroke="#8e8e8e" stroke-width="1.0"/><path d="M237.00 190.50 L237.50 189.72 L238.00 189.18 L238.50 188.75 L239.00 188.50 L239.50 188.37 L240.00 188.27 L240.50 188.17 L241.00 188.09 L241.50 188.02 L242.00 187.96 L242.50 187.90 L243.00 187.85 L243.50 187.81 L244.00 187.77 L244.50 187.74 L245.00 187.70 L245.50 187.66 L246.00 187.63 L246.50 187.60 L247.00 187.56 L247.50 187.53 L248.00 187.51 L248.50 187.48 L249.00 187.45 L249.50 187.43 L250.00 187.40 L250.50 187.38 L251.00 187.36 L251.50 187.33 L252.00 187.31 L252.50 187.29 L253.00 187.27 L253.50 187.25 L254.00 187.23 L254.50 187.21 L255.00 187.20 L255.50 187.18 L256.00 187.16 L256.50 187.14 L257.00 187.12 L257.50 187.10 L258.00 187.08 L258.50 187.06 L259.00 187.04 L259.50 187.02 L260.00 187.00 L260.50 186.98 L261.00 186.96 L261.50 186.94 L262.00 186.92 L262.50 186.89 L263.00 186.87 L263.50 186.85 L264.00 186.83 L264.50 186.81 L265.00 186.79 L265.50 186.77 L266.00 186.75 L266.50 186.73 L267.00 186.71 L267.50 186.69 L268.00 186.68 L268.50 186.66 L269.00 186.64 L269.50 186.62 L270.00 186.60 L270.50 186.58 L271.00 186.56 L271.50 186.54 L272.00 186.52 L272.50 186.50 L273.00 186.48 L273.50 186.46 L274.00 186.44 L274.50 186.42 L275.00 186.40 L275.50 186.38 L276.00 186.36 L276.50 186.34 L277.00 186.32 L277.50 186.30 L278.00 186.28 L278.50 186.26 L279.00 186.24 L279.50 186.22 L280.00 186.20 L280.50 186.18 L281.00 186.16 L281.50 186.14 L282.00 186.12 L282.50 186.10 L283.00 186.08 L283.50 186.06 L284.00 186.04 L284.50 186.02 L285.00 186.00 L285.50 185.98 L286.00 185.96 L286.50 185.94 L287.00 185.92 L287.50 185.90 L288.00 185.88 L288.50 185.86 L289.00 185.84 L289.50 185.82 L290.00 185.80 L290.50 185.78 L291.00 185.76 L291.50 185.74 L292.00 185.72 L292.50 185.70 L293.00 185.67 L293.50 185.65 L294.00 185.63 L294.50 185.60 L295.00 185.58 L295.50 185.55 L296.00 185.53 L296.50 185.50 L297.00 185.48 L297.50 185.45 L298.00 185.42 L298.50 185.39 L299.00 185.36 L299.50 185.33 L300.00 185.30 L300.50 185.27 L301.00 185.23 L301.50 185.20 L302.00 185.17 L302.50 185.13 L303.00 185.09 L303.50 185.05 L304.00 185.01 L304.50 184.97 L305.00 184.93 L305.50 184.89 L306.00 184.84 L306.50 184.79 L307.00 184.75 L307.50 184.70 L308.00 184.65 L308.50 184.60 L309.00 184.54 L309.50 184.49 L310.00 184.43 L310.50 184.38 L311.00 184.32 L311.50 184.26 L312.00 184.20 L312.50 184.14 L313.00 184.07 L313.50 184.01 L314.00 183.94 L314.50 183.87 L315.00 183.80 L315.50 183.73 L316.00 183.65 L316.50 183.57 L317.00 183.48 L317.50 183.39 L318.00 183.30 L318.50 183.20 L319.00 183.10 L319.50 182.99 L320.00 182.88 L320.50 182.77 L321.00 182.65 L321.50 182.53 L322.00 182.41 L322.50 182.28 L323.00 182.15 L323.50 182.02 L324.00 181.89 L324.50 181.75 L325.00 181.61 L325.50 181.47 L326.00 181.33 L326.50 181.18 L327.00 181.03 L327.50 180.88 L328.00 180.73 L328.50 180.57 L329.00 180.42 L329.50 180.26 L330.00 180.10" fill="none" stroke="#858585" stroke-width="1.0"/><path d="M242.50 112.00 L243.00 120.34 L243.50 125.76 L244.00 129.23 L244.50 132.04 L245.00 135.00 L245.50 138.57 L246.00 142.39 L246.50 146.02 L247.00 149.05 L247.50 151.25 L248.00 153.15 L248.50 154.84 L249.00 156.34 L249.50 157.69 L250.00 158.90 L250.50 160.00 L251.00 161.03 L251.50 162.02 L252.00 162.97 L252.50 163.87 L253.00 164.71 L253.50 165.50 L254.00 166.23 L254.50 166.90 L255.00 167.50 L255.50 168.04 L256.00 168.50 L256.50 168.92 L257.00 169.31 L257.50 169.69 L258.00 170.06 L258.50 170.40 L259.00 170.73 L259.50 171.05 L260.00 171.34 L260.50 171.62 L261.00 171.89 L261.50 172.14 L262.00 172.38 L262.50 172.60 L263.00 172.81 L263.50 173.00 L264.00 173.18 L264.50 173.35 L265.00 173.50 L265.50 173.65 L266.00 173.79 L266.50 173.92 L267.00 174.06 L267.50 174.19 L268.00 174.31 L268.50 174.43 L269.00 174.55 L269.50 174.67 L270.00 174.78 L270.50 174.88 L271.00 174.98 L271.50 175.08 L272.00 175.18 L272.50 175.27 L273.00 175.35 L273.50 175.44 L274.00 175.51 L274.50 175.59 L275.00 175.66 L275.50 175.73 L276.00 175.79 L276.50 175.85 L277.00 175.90 L277.50 175.95 L278.00 176.00 L278.50 176.04 L279.00 176.09 L279.50 176.13 L280.00 176.18 L280.50 176.22 L281.00 176.26 L281.50 176.30 L282.00 176.34 L282.50 176.38 L283.00 176.41 L283.50 176.44 L284.00 176.47 L284.50 176.50 L285.00 176.53 L285.50 176.55 L286.00 176.57 L286.50 176.58 L287.00 176.59 L287.50 176.60 L288.00 176.60 L288.50 176.58 L289.00 176.51 L289.50 176.41 L290.00 176.27 L290.50 176.11 L291.00 175.92 L291.50 175.72 L292.00 175.50 L292.50 175.22 L293.00 174.83 L293.50 174.33 L294.00 173.72 L294.50 172.98 L295.00 171.89 L295.50 170.36 L296.00 167.85 L296.50 164.00 L297.00 160.00 L297.50 156.27 L298.00 152.47 L298.50 148.73 L299.00 145.13 L299.50 141.60 L300.00 138.11 L300.50 134.59 L301.00 131.10 L301.50 127.59 L302.00 124.00 L302.50 120.28" fill="none" stroke="#c9a3a8" stroke-width="1.0"/><path d="M237.00 190.50 L237.50 189.53 L238.00 188.97 L238.50 188.54 L239.00 188.30 L239.50 188.17 L240.00 188.07 L240.50 187.97 L241.00 187.89 L241.50 187.82 L242.00 187.76 L242.50 187.70 L243.00 187.65 L243.50 187.61 L244.00 187.57 L244.50 187.54 L245.00 187.50 L245.50 187.46 L246.00 187.43 L246.50 187.40 L247.00 187.37 L247.50 187.34 L248.00 187.31 L248.50 187.28 L249.00 187.25 L249.50 187.23 L250.00 187.20 L250.50 187.18 L251.00 187.16 L251.50 187.14 L252.00 187.12 L252.50 187.10 L253.00 187.08 L253.50 187.06 L254.00 187.04 L254.50 187.02 L255.00 187.00 L255.50 186.98 L256.00 186.96 L256.50 186.94 L257.00 186.93 L257.50 186.91 L258.00 186.89 L258.50 186.87 L259.00 186.84 L259.50 186.82 L260.00 186.80 L260.50 186.78 L261.00 186.75 L261.50 186.73 L262.00 186.71 L262.50 186.69 L263.00 186.66 L263.50 186.64 L264.00 186.62 L264.50 186.60 L265.00 186.58 L265.50 186.55 L266.00 186.53 L266.50 186.51 L267.00 186.49 L267.50 186.47 L268.00 186.45 L268.50 186.42 L269.00 186.40 L269.50 186.38 L270.00 186.36 L270.50 186.34 L271.00 186.32 L271.50 186.29 L272.00 186.27 L272.50 186.25 L273.00 186.23 L273.50 186.20 L274.00 186.18 L274.50 186.16 L275.00 186.14 L275.50 186.11 L276.00 186.09 L276.50 186.07 L277.00 186.04 L277.50 186.02 L278.00 186.00 L278.50 185.97 L279.00 185.95 L279.50 185.92 L280.00 185.90 L280.50 185.88 L281.00 185.85 L281.50 185.83 L282.00 185.80 L282.50 185.78 L283.00 185.76 L283.50 185.74 L284.00 185.71 L284.50 185.69 L285.00 185.67 L285.50 185.65 L286.00 185.62 L286.50 185.60 L287.00 185.58 L287.50 185.56 L288.00 185.53 L288.50 185.51 L289.00 185.49 L289.50 185.46 L290.00 185.44 L290.50 185.41 L291.00 185.39 L291.50 185.36 L292.00 185.34 L292.50 185.31 L293.00 185.28 L293.50 185.25 L294.00 185.22 L294.50 185.19 L295.00 185.16 L295.50 185.13 L296.00 185.10 L296.50 185.07 L297.00 185.03 L297.50 185.00 L298.00 184.96 L298.50 184.92 L299.00 184.88 L299.50 184.84 L300.00 184.80 L300.50 184.76 L301.00 184.71 L301.50 184.65 L302.00 184.60 L302.50 184.54 L303.00 184.47 L303.50 184.41 L304.00 184.34 L304.50 184.27 L305.00 184.19 L305.50 184.11 L306.00 184.03 L306.50 183.95 L307.00 183.86 L307.50 183.77 L308.00 183.68 L308.50 183.59 L309.00 183.50 L309.50 183.40 L310.00 183.31 L310.50 183.21 L311.00 183.11 L311.50 183.01 L312.00 182.91 L312.50 182.81 L313.00 182.71 L313.50 182.61 L314.00 182.50 L314.50 182.40 L315.00 182.30 L315.50 182.20 L316.00 182.09 L316.50 181.99 L317.00 181.88 L317.50 181.76 L318.00 181.65 L318.50 181.54 L319.00 181.42 L319.50 181.30 L320.00 181.18 L320.50 181.06 L321.00 180.93 L321.50 180.80 L322.00 180.67 L322.50 180.54 L323.00 180.41 L323.50 180.28 L324.00 180.14 L324.50 180.01 L325.00 179.87 L325.50 179.73 L326.00 179.58 L326.50 179.44 L327.00 179.30 L327.50 179.15 L328.00 179.00 L328.50 178.85 L329.00 178.70 L329.50 178.55 L330.00 178.40" fill="none" stroke="#a89c9e" stroke-width="1.0"/><path d="M243.50 112.00 L244.00 120.34 L244.50 125.78 L245.00 129.39 L245.50 132.27 L246.00 135.00 L246.50 137.84 L247.00 140.61 L247.50 143.27 L248.00 145.75 L248.50 148.01 L249.00 150.00 L249.50 151.78 L250.00 153.45 L250.50 155.00 L251.00 156.44 L251.50 157.76 L252.00 158.94 L252.50 160.00 L253.00 160.97 L253.50 161.90 L254.00 162.78 L254.50 163.62 L255.00 164.41 L255.50 165.15 L256.00 165.83 L256.50 166.47 L257.00 167.04 L257.50 167.55 L258.00 168.00 L258.50 168.41 L259.00 168.79 L259.50 169.16 L260.00 169.51 L260.50 169.84 L261.00 170.15 L261.50 170.45 L262.00 170.73 L262.50 171.00 L263.00 171.25 L263.50 171.49 L264.00 171.71 L264.50 171.93 L265.00 172.13 L265.50 172.32 L266.00 172.50 L266.50 172.67 L267.00 172.84 L267.50 173.00 L268.00 173.16 L268.50 173.31 L269.00 173.46 L269.50 173.60 L270.00 173.74 L270.50 173.87 L271.00 174.00 L271.50 174.12 L272.00 174.24 L272.50 174.35 L273.00 174.46 L273.50 174.56 L274.00 174.66 L274.50 174.75 L275.00 174.84 L275.50 174.92 L276.00 175.00 L276.50 175.08 L277.00 175.16 L277.50 175.24 L278.00 175.32 L278.50 175.39 L279.00 175.47 L279.50 175.53 L280.00 175.60 L280.50 175.65 L281.00 175.70 L281.50 175.74 L282.00 175.77 L282.50 175.79 L283.00 175.80 L283.50 175.79 L284.00 175.75 L284.50 175.69 L285.00 175.61 L285.50 175.52 L286.00 175.41 L286.50 175.28 L287.00 175.15 L287.50 175.00 L288.00 174.81 L288.50 174.55 L289.00 174.21 L289.50 173.80 L290.00 173.32 L290.50 172.76 L291.00 171.97 L291.50 170.85 L292.00 169.23 L292.50 166.20 L293.00 162.33 L293.50 158.43 L294.00 154.13 L294.50 149.70 L295.00 145.55 L295.50 141.55 L296.00 137.59 L296.50 133.61 L297.00 129.66 L297.50 125.65 L298.00 121.47" fill="none" stroke="#a3bccb" stroke-width="1.0"/><path d="M237.00 190.50 L237.50 189.35 L238.00 188.75 L238.50 188.33 L239.00 188.10 L239.50 187.97 L240.00 187.87 L240.50 187.77 L241.00 187.69 L241.50 187.62 L242.00 187.56 L242.50 187.50 L243.00 187.45 L243.50 187.41 L244.00 187.37 L244.50 187.34 L245.00 187.30 L245.50 187.26 L246.00 187.23 L246.50 187.20 L247.00 187.17 L247.50 187.14 L248.00 187.11 L248.50 187.08 L249.00 187.06 L249.50 187.03 L250.00 187.01 L250.50 186.98 L251.00 186.96 L251.50 186.94 L252.00 186.92 L252.50 186.90 L253.00 186.88 L253.50 186.86 L254.00 186.84 L254.50 186.82 L255.00 186.81 L255.50 186.79 L256.00 186.77 L256.50 186.75 L257.00 186.73 L257.50 186.71 L258.00 186.69 L258.50 186.67 L259.00 186.65 L259.50 186.62 L260.00 186.60 L260.50 186.58 L261.00 186.55 L261.50 186.53 L262.00 186.50 L262.50 186.48 L263.00 186.46 L263.50 186.43 L264.00 186.41 L264.50 186.39 L265.00 186.36 L265.50 186.34 L266.00 186.32 L266.50 186.29 L267.00 186.27 L267.50 186.24 L268.00 186.22 L268.50 186.20 L269.00 186.17 L269.50 186.15 L270.00 186.13 L270.50 186.10 L271.00 186.08 L271.50 186.05 L272.00 186.03 L272.50 186.00 L273.00 185.98 L273.50 185.95 L274.00 185.93 L274.50 185.90 L275.00 185.88 L275.50 185.85 L276.00 185.82 L276.50 185.80 L277.00 185.77 L277.50 185.74 L278.00 185.71 L278.50 185.69 L279.00 185.66 L279.50 185.63 L280.00 185.60 L280.50 185.57 L281.00 185.54 L281.50 185.51 L282.00 185.49 L282.50 185.46 L283.00 185.43 L283.50 185.40 L284.00 185.37 L284.50 185.35 L285.00 185.32 L285.50 185.29 L286.00 185.26 L286.50 185.23 L287.00 185.21 L287.50 185.18 L288.00 185.15 L288.50 185.12 L289.00 185.09 L289.50 185.06 L290.00 185.02 L290.50 184.99 L291.00 184.96 L291.50 184.93 L292.00 184.89 L292.50 184.86 L293.00 184.82 L293.50 184.78 L294.00 184.75 L294.50 184.71 L295.00 184.67 L295.50 184.63 L296.00 184.58 L296.50 184.54 L297.00 184.50 L297.50 184.45 L298.00 184.40 L298.50 184.36 L299.00 184.30 L299.50 184.25 L300.00 184.20 L300.50 184.14 L301.00 184.08 L301.50 184.01 L302.00 183.94 L302.50 183.86 L303.00 183.78 L303.50 183.69 L304.00 183.60 L304.50 183.51 L305.00 183.41 L305.50 183.31 L306.00 183.20 L306.50 183.09 L307.00 182.98 L307.50 182.87 L308.00 182.75 L308.50 182.63 L309.00 182.51 L309.50 182.39 L310.00 182.26 L310.50 182.14 L311.00 182.01 L311.50 181.89 L312.00 181.76 L312.50 181.63 L313.00 181.51 L313.50 181.38 L314.00 181.25 L314.50 181.13 L315.00 181.00 L315.50 180.87 L316.00 180.75 L316.50 180.62 L317.00 180.49 L317.50 180.35 L318.00 180.22 L318.50 180.08 L319.00 179.94 L319.50 179.80 L320.00 179.66 L320.50 179.52 L321.00 179.37 L321.50 179.22 L322.00 179.08 L322.50 178.93 L323.00 178.77 L323.50 178.62 L324.00 178.47 L324.50 178.31 L325.00 178.15 L325.50 177.99 L326.00 177.83 L326.50 177.67 L327.00 177.51 L327.50 177.34 L328.00 177.18 L328.50 177.01 L329.00 176.84 L329.50 176.67 L330.00 176.50" fill="none" stroke="#9eaab2" stroke-width="1.0"/><path d="M244.80 112.00 L245.30 118.68 L245.80 124.00 L246.30 127.87 L246.80 131.07 L247.30 133.90 L247.80 136.64 L248.30 139.28 L248.80 141.79 L249.30 144.17 L249.80 146.40 L250.30 148.47 L250.80 150.37 L251.30 152.18 L251.80 153.91 L252.30 155.55 L252.80 157.06 L253.30 158.42 L253.80 159.59 L254.30 160.58 L254.80 161.49 L255.30 162.35 L255.80 163.14 L256.30 163.88 L256.80 164.57 L257.30 165.21 L257.80 165.79 L258.30 166.33 L258.80 166.82 L259.30 167.27 L259.80 167.70 L260.30 168.10 L260.80 168.50 L261.30 168.87 L261.80 169.22 L262.30 169.56 L262.80 169.88 L263.30 170.18 L263.80 170.46 L264.30 170.72 L264.80 170.97 L265.30 171.20 L265.80 171.42 L266.30 171.62 L266.80 171.81 L267.30 172.00 L267.80 172.19 L268.30 172.36 L268.80 172.53 L269.30 172.69 L269.80 172.85 L270.30 172.99 L270.80 173.13 L271.30 173.26 L271.80 173.38 L272.30 173.50 L272.80 173.60 L273.30 173.69 L273.80 173.77 L274.30 173.84 L274.80 173.92 L275.30 173.99 L275.80 174.05 L276.30 174.12 L276.80 174.17 L277.30 174.22 L277.80 174.26 L278.30 174.29 L278.80 174.30 L279.30 174.28 L279.80 174.18 L280.30 174.00 L280.80 173.75 L281.30 173.46 L281.80 173.13 L282.30 172.77 L282.80 172.24 L283.30 171.53 L283.80 170.56 L284.30 168.90 L284.80 165.93 L285.30 161.00 L285.80 155.82 L286.30 150.22 L286.80 144.76 L287.30 139.36 L287.80 133.63 L288.30 127.46 L288.80 121.89" fill="none" stroke="#c4d4aa" stroke-width="1.0"/><path d="M237.00 190.50 L237.50 189.16 L238.00 188.54 L238.50 188.13 L239.00 187.90 L239.50 187.78 L240.00 187.67 L240.50 187.57 L241.00 187.49 L241.50 187.42 L242.00 187.36 L242.50 187.31 L243.00 187.26 L243.50 187.22 L244.00 187.18 L244.50 187.14 L245.00 187.10 L245.50 187.06 L246.00 187.02 L246.50 186.99 L247.00 186.95 L247.50 186.92 L248.00 186.89 L248.50 186.86 L249.00 186.83 L249.50 186.80 L250.00 186.77 L250.50 186.74 L251.00 186.72 L251.50 186.69 L252.00 186.67 L252.50 186.64 L253.00 186.62 L253.50 186.60 L254.00 186.58 L254.50 186.55 L255.00 186.53 L255.50 186.51 L256.00 186.49 L256.50 186.47 L257.00 186.44 L257.50 186.42 L258.00 186.40 L258.50 186.37 L259.00 186.35 L259.50 186.33 L260.00 186.30 L260.50 186.27 L261.00 186.25 L261.50 186.22 L262.00 186.20 L262.50 186.18 L263.00 186.15 L263.50 186.13 L264.00 186.11 L264.50 186.08 L265.00 186.06 L265.50 186.04 L266.00 186.02 L266.50 186.00 L267.00 185.97 L267.50 185.95 L268.00 185.93 L268.50 185.91 L269.00 185.88 L269.50 185.86 L270.00 185.84 L270.50 185.82 L271.00 185.79 L271.50 185.77 L272.00 185.75 L272.50 185.72 L273.00 185.70 L273.50 185.68 L274.00 185.65 L274.50 185.62 L275.00 185.60 L275.50 185.57 L276.00 185.54 L276.50 185.52 L277.00 185.49 L277.50 185.46 L278.00 185.43 L278.50 185.40 L279.00 185.37 L279.50 185.33 L280.00 185.30 L280.50 185.27 L281.00 185.23 L281.50 185.20 L282.00 185.16 L282.50 185.12 L283.00 185.08 L283.50 185.04 L284.00 185.00 L284.50 184.96 L285.00 184.92 L285.50 184.88 L286.00 184.83 L286.50 184.79 L287.00 184.74 L287.50 184.69 L288.00 184.64 L288.50 184.59 L289.00 184.54 L289.50 184.49 L290.00 184.43 L290.50 184.38 L291.00 184.32 L291.50 184.26 L292.00 184.20 L292.50 184.14 L293.00 184.07 L293.50 184.01 L294.00 183.94 L294.50 183.87 L295.00 183.80 L295.50 183.72 L296.00 183.64 L296.50 183.55 L297.00 183.46 L297.50 183.36 L298.00 183.25 L298.50 183.14 L299.00 183.03 L299.50 182.91 L300.00 182.79 L300.50 182.66 L301.00 182.53 L301.50 182.40 L302.00 182.26 L302.50 182.12 L303.00 181.98 L303.50 181.84 L304.00 181.69 L304.50 181.55 L305.00 181.41 L305.50 181.26 L306.00 181.12 L306.50 180.97 L307.00 180.83 L307.50 180.68 L308.00 180.54 L308.50 180.40 L309.00 180.27 L309.50 180.13 L310.00 180.00 L310.50 179.87 L311.00 179.74 L311.50 179.61 L312.00 179.48 L312.50 179.34 L313.00 179.21 L313.50 179.08 L314.00 178.95 L314.50 178.82 L315.00 178.68 L315.50 178.55 L316.00 178.42 L316.50 178.29 L317.00 178.15 L317.50 178.02 L318.00 177.88 L318.50 177.75 L319.00 177.62 L319.50 177.48 L320.00 177.35 L320.50 177.21 L321.00 177.08 L321.50 176.94 L322.00 176.80 L322.50 176.67 L323.00 176.53 L323.50 176.40 L324.00 176.26 L324.50 176.12 L325.00 175.99 L325.50 175.85 L326.00 175.71 L326.50 175.57 L327.00 175.43 L327.50 175.30 L328.00 175.16 L328.50 175.02 L329.00 174.88 L329.50 174.74 L330.00 174.60" fill="none" stroke="#b0bca2" stroke-width="1.0"/></g>
<line x1="261.1" y1="124.3" x2="267.79999999999995" y2="124.3" stroke="#9a9a9a" stroke-width="1.3" stroke-linecap="round"/>
<line x1="264.1" y1="124.3" x2="267.2" y2="124.3" stroke="#6e6e6e" stroke-width="1.5" stroke-linecap="round"/>
<line x1="274.3" y1="124.3" x2="282.4" y2="124.3" stroke="#9a9a9a" stroke-width="1.3" stroke-linecap="round"/>
<line x1="277.9" y1="124.3" x2="281.8" y2="124.3" stroke="#6e6e6e" stroke-width="1.5" stroke-linecap="round"/>
<line x1="288.90000000000003" y1="124.3" x2="297.4" y2="124.3" stroke="#9a9a9a" stroke-width="1.3" stroke-linecap="round"/>
<line x1="292.7" y1="124.3" x2="296.8" y2="124.3" stroke="#6e6e6e" stroke-width="1.5" stroke-linecap="round"/>
<line x1="305.90000000000003" y1="124.3" x2="312.29999999999995" y2="124.3" stroke="#9a9a9a" stroke-width="1.3" stroke-linecap="round"/>
<line x1="308.7" y1="124.3" x2="311.7" y2="124.3" stroke="#6e6e6e" stroke-width="1.5" stroke-linecap="round"/>
</svg>
</body></html>
